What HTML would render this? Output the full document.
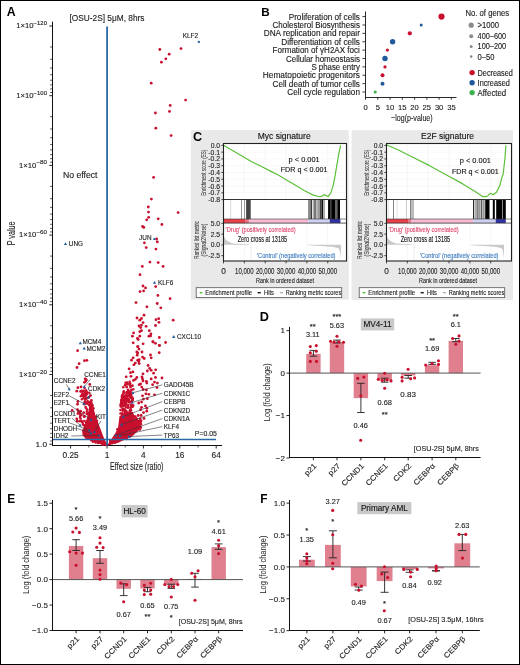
<!DOCTYPE html>
<html><head><meta charset="utf-8"><style>
html,body{margin:0;padding:0;background:#fff;}
svg{display:block;will-change:transform;}
svg text{font-family:"Liberation Sans", sans-serif;}
</style></head><body>
<svg width="520" height="665" viewBox="0 0 520 665" font-family="'Liberation Sans', sans-serif">
<rect x="0" y="0" width="520" height="665" fill="#fff"/>
<text x="6.80" y="16.00" font-size="12.3" font-weight="bold" fill="#000">A</text>
<text x="69.50" y="21.30" font-size="8.4" fill="#222" textLength="75" lengthAdjust="spacingAndGlyphs" stroke="#222" stroke-width="0.12">[OSU-2S] 5μM, 8hrs</text>
<line x1="52.50" y1="21.70" x2="52.50" y2="445.50" stroke="#111" stroke-width="1.0"/>
<line x1="52.00" y1="445.50" x2="222.00" y2="445.50" stroke="#111" stroke-width="1.0"/>
<line x1="49.30" y1="26.00" x2="52.50" y2="26.00" stroke="#111" stroke-width="0.9"/>
<text x="16.30" y="28.30" font-size="7.4" fill="#222" textLength="17.3" lengthAdjust="spacingAndGlyphs" stroke="#222" stroke-width="0.12">1×10</text>
<text x="33.60" y="25.00" font-size="5.0" fill="#222" textLength="13.4" lengthAdjust="spacingAndGlyphs" stroke="#222" stroke-width="0.12">−120</text>
<line x1="50.10" y1="46.98" x2="52.50" y2="46.98" stroke="#111" stroke-width="0.7"/>
<line x1="50.10" y1="59.26" x2="52.50" y2="59.26" stroke="#111" stroke-width="0.7"/>
<line x1="50.10" y1="67.96" x2="52.50" y2="67.96" stroke="#111" stroke-width="0.7"/>
<line x1="50.10" y1="74.72" x2="52.50" y2="74.72" stroke="#111" stroke-width="0.7"/>
<line x1="50.10" y1="80.24" x2="52.50" y2="80.24" stroke="#111" stroke-width="0.7"/>
<line x1="50.10" y1="84.90" x2="52.50" y2="84.90" stroke="#111" stroke-width="0.7"/>
<line x1="50.10" y1="88.95" x2="52.50" y2="88.95" stroke="#111" stroke-width="0.7"/>
<line x1="50.10" y1="92.51" x2="52.50" y2="92.51" stroke="#111" stroke-width="0.7"/>
<line x1="49.30" y1="95.70" x2="52.50" y2="95.70" stroke="#111" stroke-width="0.9"/>
<text x="16.30" y="98.00" font-size="7.4" fill="#222" textLength="17.3" lengthAdjust="spacingAndGlyphs" stroke="#222" stroke-width="0.12">1×10</text>
<text x="33.60" y="94.70" font-size="5.0" fill="#222" textLength="13.4" lengthAdjust="spacingAndGlyphs" stroke="#222" stroke-width="0.12">−100</text>
<line x1="50.10" y1="116.68" x2="52.50" y2="116.68" stroke="#111" stroke-width="0.7"/>
<line x1="50.10" y1="128.96" x2="52.50" y2="128.96" stroke="#111" stroke-width="0.7"/>
<line x1="50.10" y1="137.66" x2="52.50" y2="137.66" stroke="#111" stroke-width="0.7"/>
<line x1="50.10" y1="144.42" x2="52.50" y2="144.42" stroke="#111" stroke-width="0.7"/>
<line x1="50.10" y1="149.94" x2="52.50" y2="149.94" stroke="#111" stroke-width="0.7"/>
<line x1="50.10" y1="154.60" x2="52.50" y2="154.60" stroke="#111" stroke-width="0.7"/>
<line x1="50.10" y1="158.65" x2="52.50" y2="158.65" stroke="#111" stroke-width="0.7"/>
<line x1="50.10" y1="162.21" x2="52.50" y2="162.21" stroke="#111" stroke-width="0.7"/>
<line x1="49.30" y1="165.40" x2="52.50" y2="165.40" stroke="#111" stroke-width="0.9"/>
<text x="19.10" y="167.70" font-size="7.4" fill="#222" textLength="17.3" lengthAdjust="spacingAndGlyphs" stroke="#222" stroke-width="0.12">1×10</text>
<text x="36.40" y="164.40" font-size="5.0" fill="#222" textLength="10.6" lengthAdjust="spacingAndGlyphs" stroke="#222" stroke-width="0.12">−80</text>
<line x1="50.10" y1="186.38" x2="52.50" y2="186.38" stroke="#111" stroke-width="0.7"/>
<line x1="50.10" y1="198.66" x2="52.50" y2="198.66" stroke="#111" stroke-width="0.7"/>
<line x1="50.10" y1="207.36" x2="52.50" y2="207.36" stroke="#111" stroke-width="0.7"/>
<line x1="50.10" y1="214.12" x2="52.50" y2="214.12" stroke="#111" stroke-width="0.7"/>
<line x1="50.10" y1="219.64" x2="52.50" y2="219.64" stroke="#111" stroke-width="0.7"/>
<line x1="50.10" y1="224.30" x2="52.50" y2="224.30" stroke="#111" stroke-width="0.7"/>
<line x1="50.10" y1="228.35" x2="52.50" y2="228.35" stroke="#111" stroke-width="0.7"/>
<line x1="50.10" y1="231.91" x2="52.50" y2="231.91" stroke="#111" stroke-width="0.7"/>
<line x1="49.30" y1="235.10" x2="52.50" y2="235.10" stroke="#111" stroke-width="0.9"/>
<text x="19.10" y="237.40" font-size="7.4" fill="#222" textLength="17.3" lengthAdjust="spacingAndGlyphs" stroke="#222" stroke-width="0.12">1×10</text>
<text x="36.40" y="234.10" font-size="5.0" fill="#222" textLength="10.6" lengthAdjust="spacingAndGlyphs" stroke="#222" stroke-width="0.12">−60</text>
<line x1="50.10" y1="256.08" x2="52.50" y2="256.08" stroke="#111" stroke-width="0.7"/>
<line x1="50.10" y1="268.36" x2="52.50" y2="268.36" stroke="#111" stroke-width="0.7"/>
<line x1="50.10" y1="277.06" x2="52.50" y2="277.06" stroke="#111" stroke-width="0.7"/>
<line x1="50.10" y1="283.82" x2="52.50" y2="283.82" stroke="#111" stroke-width="0.7"/>
<line x1="50.10" y1="289.34" x2="52.50" y2="289.34" stroke="#111" stroke-width="0.7"/>
<line x1="50.10" y1="294.00" x2="52.50" y2="294.00" stroke="#111" stroke-width="0.7"/>
<line x1="50.10" y1="298.05" x2="52.50" y2="298.05" stroke="#111" stroke-width="0.7"/>
<line x1="50.10" y1="301.61" x2="52.50" y2="301.61" stroke="#111" stroke-width="0.7"/>
<line x1="49.30" y1="304.80" x2="52.50" y2="304.80" stroke="#111" stroke-width="0.9"/>
<text x="19.10" y="307.10" font-size="7.4" fill="#222" textLength="17.3" lengthAdjust="spacingAndGlyphs" stroke="#222" stroke-width="0.12">1×10</text>
<text x="36.40" y="303.80" font-size="5.0" fill="#222" textLength="10.6" lengthAdjust="spacingAndGlyphs" stroke="#222" stroke-width="0.12">−40</text>
<line x1="50.10" y1="325.78" x2="52.50" y2="325.78" stroke="#111" stroke-width="0.7"/>
<line x1="50.10" y1="338.06" x2="52.50" y2="338.06" stroke="#111" stroke-width="0.7"/>
<line x1="50.10" y1="346.76" x2="52.50" y2="346.76" stroke="#111" stroke-width="0.7"/>
<line x1="50.10" y1="353.52" x2="52.50" y2="353.52" stroke="#111" stroke-width="0.7"/>
<line x1="50.10" y1="359.04" x2="52.50" y2="359.04" stroke="#111" stroke-width="0.7"/>
<line x1="50.10" y1="363.70" x2="52.50" y2="363.70" stroke="#111" stroke-width="0.7"/>
<line x1="50.10" y1="367.75" x2="52.50" y2="367.75" stroke="#111" stroke-width="0.7"/>
<line x1="50.10" y1="371.31" x2="52.50" y2="371.31" stroke="#111" stroke-width="0.7"/>
<line x1="49.30" y1="374.50" x2="52.50" y2="374.50" stroke="#111" stroke-width="0.9"/>
<text x="19.10" y="376.80" font-size="7.4" fill="#222" textLength="17.3" lengthAdjust="spacingAndGlyphs" stroke="#222" stroke-width="0.12">1×10</text>
<text x="36.40" y="373.50" font-size="5.0" fill="#222" textLength="10.6" lengthAdjust="spacingAndGlyphs" stroke="#222" stroke-width="0.12">−20</text>
<line x1="50.10" y1="395.48" x2="52.50" y2="395.48" stroke="#111" stroke-width="0.7"/>
<line x1="50.10" y1="407.76" x2="52.50" y2="407.76" stroke="#111" stroke-width="0.7"/>
<line x1="50.10" y1="416.46" x2="52.50" y2="416.46" stroke="#111" stroke-width="0.7"/>
<line x1="50.10" y1="423.22" x2="52.50" y2="423.22" stroke="#111" stroke-width="0.7"/>
<line x1="50.10" y1="428.74" x2="52.50" y2="428.74" stroke="#111" stroke-width="0.7"/>
<line x1="50.10" y1="433.40" x2="52.50" y2="433.40" stroke="#111" stroke-width="0.7"/>
<line x1="50.10" y1="437.45" x2="52.50" y2="437.45" stroke="#111" stroke-width="0.7"/>
<line x1="50.10" y1="441.01" x2="52.50" y2="441.01" stroke="#111" stroke-width="0.7"/>
<line x1="49.30" y1="444.20" x2="52.50" y2="444.20" stroke="#111" stroke-width="0.9"/>
<text x="47.00" y="447.00" font-size="7.8" text-anchor="end" fill="#222" textLength="11.5" lengthAdjust="spacingAndGlyphs" stroke="#222" stroke-width="0.12">1.0</text>
<text transform="translate(14.8,233.35) rotate(-90)" font-size="10" text-anchor="middle" fill="#222" stroke="#222" stroke-width="0.1" textLength="24" lengthAdjust="spacingAndGlyphs">P value</text>
<line x1="70.60" y1="445.50" x2="70.60" y2="448.50" stroke="#111" stroke-width="0.9"/>
<text x="70.60" y="457.60" font-size="8.3" text-anchor="middle" fill="#222" stroke="#222" stroke-width="0.12">0.25</text>
<line x1="107.00" y1="445.50" x2="107.00" y2="448.50" stroke="#111" stroke-width="0.9"/>
<text x="107.00" y="457.60" font-size="8.3" text-anchor="middle" fill="#222" stroke="#222" stroke-width="0.12">1</text>
<line x1="143.40" y1="445.50" x2="143.40" y2="448.50" stroke="#111" stroke-width="0.9"/>
<text x="143.40" y="457.60" font-size="8.3" text-anchor="middle" fill="#222" stroke="#222" stroke-width="0.12">4</text>
<line x1="179.80" y1="445.50" x2="179.80" y2="448.50" stroke="#111" stroke-width="0.9"/>
<text x="179.80" y="457.60" font-size="8.3" text-anchor="middle" fill="#222" stroke="#222" stroke-width="0.12">16</text>
<line x1="216.20" y1="445.50" x2="216.20" y2="448.50" stroke="#111" stroke-width="0.9"/>
<text x="216.20" y="457.60" font-size="8.3" text-anchor="middle" fill="#222" stroke="#222" stroke-width="0.12">64</text>
<line x1="88.80" y1="445.50" x2="88.80" y2="447.50" stroke="#111" stroke-width="0.7"/>
<line x1="125.20" y1="445.50" x2="125.20" y2="447.50" stroke="#111" stroke-width="0.7"/>
<line x1="161.60" y1="445.50" x2="161.60" y2="447.50" stroke="#111" stroke-width="0.7"/>
<line x1="198.00" y1="445.50" x2="198.00" y2="447.50" stroke="#111" stroke-width="0.7"/>
<text x="110.10" y="469.60" font-size="10.4" fill="#222" textLength="53.4" lengthAdjust="spacingAndGlyphs" stroke="#222" stroke-width="0.12">Effect size (ratio)</text>
<text x="62.90" y="177.90" font-size="8.6" fill="#222" textLength="34.6" lengthAdjust="spacingAndGlyphs" stroke="#222" stroke-width="0.12">No effect</text>
<g>
<polygon points="90.3,400 92,403.6 93.7,408.8 95.5,415.7 98.1,422.7 100.7,429.6 103.3,436.5 106.7,443.4 107.5,445.5 104,445.2 100.7,444.2 96,443 92.5,441.6 88.5,439.8 85.3,438 83,435.5 82.3,433 82.8,430 84.2,426.1 86,420.9 87.7,415.7 88.5,410.6 89.4,405.4" fill="#c8102e"/>
<polygon points="107.5,445.5 108.4,443.4 111.9,438.2 115.4,433 118,427.9 119,420 119.5,416 126,415.5 132.7,415.8 135,420 139,424 141,427 136.9,432.2 128.6,438.1 118.1,442.8 110.2,444.8" fill="#c8102e"/>
<circle cx="90.46" cy="406.86" r="1.25" fill="#c8102e"/>
<circle cx="95.80" cy="416.64" r="1.25" fill="#c8102e"/>
<circle cx="93.00" cy="437.62" r="1.25" fill="#c8102e"/>
<circle cx="98.11" cy="443.12" r="1.25" fill="#c8102e"/>
<circle cx="90.07" cy="437.13" r="1.25" fill="#c8102e"/>
<circle cx="86.85" cy="426.46" r="1.25" fill="#c8102e"/>
<circle cx="90.22" cy="426.64" r="1.25" fill="#c8102e"/>
<circle cx="93.72" cy="413.64" r="1.25" fill="#c8102e"/>
<circle cx="88.45" cy="426.14" r="1.25" fill="#c8102e"/>
<circle cx="95.53" cy="439.82" r="1.25" fill="#c8102e"/>
<circle cx="92.84" cy="434.45" r="1.25" fill="#c8102e"/>
<circle cx="86.13" cy="422.25" r="1.25" fill="#c8102e"/>
<circle cx="83.29" cy="430.40" r="1.25" fill="#c8102e"/>
<circle cx="96.91" cy="420.76" r="1.25" fill="#c8102e"/>
<circle cx="103.47" cy="442.98" r="1.25" fill="#c8102e"/>
<circle cx="94.25" cy="430.22" r="1.25" fill="#c8102e"/>
<circle cx="83.83" cy="431.92" r="1.25" fill="#c8102e"/>
<circle cx="92.02" cy="430.42" r="1.25" fill="#c8102e"/>
<circle cx="83.79" cy="434.95" r="1.25" fill="#c8102e"/>
<circle cx="92.15" cy="439.65" r="1.25" fill="#c8102e"/>
<circle cx="96.15" cy="440.19" r="1.25" fill="#c8102e"/>
<circle cx="102.95" cy="439.31" r="1.25" fill="#c8102e"/>
<circle cx="89.32" cy="418.90" r="1.25" fill="#c8102e"/>
<circle cx="91.34" cy="440.23" r="1.25" fill="#c8102e"/>
<circle cx="88.18" cy="422.07" r="1.25" fill="#c8102e"/>
<circle cx="91.61" cy="425.77" r="1.25" fill="#c8102e"/>
<circle cx="95.29" cy="428.10" r="1.25" fill="#c8102e"/>
<circle cx="92.19" cy="418.15" r="1.25" fill="#c8102e"/>
<circle cx="84.91" cy="428.86" r="1.25" fill="#c8102e"/>
<circle cx="90.87" cy="402.39" r="1.25" fill="#c8102e"/>
<circle cx="88.66" cy="415.81" r="1.25" fill="#c8102e"/>
<circle cx="91.48" cy="405.59" r="1.25" fill="#c8102e"/>
<circle cx="94.04" cy="422.01" r="1.25" fill="#c8102e"/>
<circle cx="90.93" cy="412.05" r="1.25" fill="#c8102e"/>
<circle cx="88.88" cy="416.68" r="1.25" fill="#c8102e"/>
<circle cx="86.51" cy="435.12" r="1.25" fill="#c8102e"/>
<circle cx="95.72" cy="435.45" r="1.25" fill="#c8102e"/>
<circle cx="90.61" cy="410.15" r="1.25" fill="#c8102e"/>
<circle cx="102.75" cy="444.81" r="1.25" fill="#c8102e"/>
<circle cx="88.01" cy="423.55" r="1.25" fill="#c8102e"/>
<circle cx="88.83" cy="431.51" r="1.25" fill="#c8102e"/>
<circle cx="105.91" cy="444.96" r="1.25" fill="#c8102e"/>
<circle cx="98.03" cy="440.96" r="1.25" fill="#c8102e"/>
<circle cx="98.76" cy="436.38" r="1.25" fill="#c8102e"/>
<circle cx="84.44" cy="430.06" r="1.25" fill="#c8102e"/>
<circle cx="86.80" cy="435.91" r="1.25" fill="#c8102e"/>
<circle cx="90.68" cy="436.44" r="1.25" fill="#c8102e"/>
<circle cx="85.98" cy="437.61" r="1.25" fill="#c8102e"/>
<circle cx="91.13" cy="424.96" r="1.25" fill="#c8102e"/>
<circle cx="95.57" cy="442.48" r="1.25" fill="#c8102e"/>
<circle cx="93.23" cy="439.66" r="1.25" fill="#c8102e"/>
<circle cx="88.65" cy="413.33" r="1.25" fill="#c8102e"/>
<circle cx="88.36" cy="426.68" r="1.25" fill="#c8102e"/>
<circle cx="88.84" cy="419.07" r="1.25" fill="#c8102e"/>
<circle cx="91.22" cy="420.85" r="1.25" fill="#c8102e"/>
<circle cx="97.00" cy="441.15" r="1.25" fill="#c8102e"/>
<circle cx="92.90" cy="441.76" r="1.25" fill="#c8102e"/>
<circle cx="94.94" cy="424.20" r="1.25" fill="#c8102e"/>
<circle cx="93.39" cy="408.33" r="1.25" fill="#c8102e"/>
<circle cx="86.64" cy="421.54" r="1.25" fill="#c8102e"/>
<circle cx="131.79" cy="432.19" r="1.25" fill="#c8102e"/>
<circle cx="118.42" cy="431.05" r="1.25" fill="#c8102e"/>
<circle cx="126.11" cy="439.03" r="1.25" fill="#c8102e"/>
<circle cx="133.37" cy="430.73" r="1.25" fill="#c8102e"/>
<circle cx="126.32" cy="438.30" r="1.25" fill="#c8102e"/>
<circle cx="138.07" cy="428.80" r="1.25" fill="#c8102e"/>
<circle cx="128.02" cy="430.67" r="1.25" fill="#c8102e"/>
<circle cx="124.66" cy="436.28" r="1.25" fill="#c8102e"/>
<circle cx="122.65" cy="431.50" r="1.25" fill="#c8102e"/>
<circle cx="129.62" cy="419.79" r="1.25" fill="#c8102e"/>
<circle cx="120.84" cy="430.12" r="1.25" fill="#c8102e"/>
<circle cx="124.77" cy="425.67" r="1.25" fill="#c8102e"/>
<circle cx="131.69" cy="416.08" r="1.25" fill="#c8102e"/>
<circle cx="126.06" cy="428.71" r="1.25" fill="#c8102e"/>
<circle cx="128.40" cy="430.87" r="1.25" fill="#c8102e"/>
<circle cx="134.94" cy="423.26" r="1.25" fill="#c8102e"/>
<circle cx="112.50" cy="443.08" r="1.25" fill="#c8102e"/>
<circle cx="126.61" cy="436.51" r="1.25" fill="#c8102e"/>
<circle cx="130.55" cy="428.26" r="1.25" fill="#c8102e"/>
<circle cx="109.93" cy="443.65" r="1.25" fill="#c8102e"/>
<circle cx="110.31" cy="441.19" r="1.25" fill="#c8102e"/>
<circle cx="122.70" cy="425.67" r="1.25" fill="#c8102e"/>
<circle cx="125.15" cy="422.65" r="1.25" fill="#c8102e"/>
<circle cx="132.94" cy="424.20" r="1.25" fill="#c8102e"/>
<circle cx="124.25" cy="420.84" r="1.25" fill="#c8102e"/>
<circle cx="132.06" cy="432.03" r="1.25" fill="#c8102e"/>
<circle cx="134.93" cy="428.47" r="1.25" fill="#c8102e"/>
<circle cx="120.67" cy="430.70" r="1.25" fill="#c8102e"/>
<circle cx="118.98" cy="440.47" r="1.25" fill="#c8102e"/>
<circle cx="131.18" cy="434.58" r="1.25" fill="#c8102e"/>
<circle cx="121.06" cy="425.93" r="1.25" fill="#c8102e"/>
<circle cx="110.33" cy="440.74" r="1.25" fill="#c8102e"/>
<circle cx="117.32" cy="429.28" r="1.25" fill="#c8102e"/>
<circle cx="123.40" cy="430.58" r="1.25" fill="#c8102e"/>
<circle cx="127.12" cy="431.38" r="1.25" fill="#c8102e"/>
<circle cx="120.55" cy="425.28" r="1.25" fill="#c8102e"/>
<circle cx="131.76" cy="434.80" r="1.25" fill="#c8102e"/>
<circle cx="130.38" cy="436.30" r="1.25" fill="#c8102e"/>
<circle cx="111.01" cy="440.57" r="1.25" fill="#c8102e"/>
<circle cx="126.21" cy="434.33" r="1.25" fill="#c8102e"/>
<circle cx="128.48" cy="435.92" r="1.25" fill="#c8102e"/>
<circle cx="124.35" cy="431.56" r="1.25" fill="#c8102e"/>
<circle cx="129.59" cy="417.48" r="1.25" fill="#c8102e"/>
<circle cx="132.18" cy="423.07" r="1.25" fill="#c8102e"/>
<circle cx="131.93" cy="421.66" r="1.25" fill="#c8102e"/>
<circle cx="124.05" cy="426.98" r="1.25" fill="#c8102e"/>
<circle cx="123.55" cy="436.01" r="1.25" fill="#c8102e"/>
<circle cx="133.19" cy="434.01" r="1.25" fill="#c8102e"/>
<circle cx="129.03" cy="417.82" r="1.25" fill="#c8102e"/>
<circle cx="132.40" cy="424.63" r="1.25" fill="#c8102e"/>
<circle cx="126.52" cy="415.87" r="1.25" fill="#c8102e"/>
<circle cx="130.01" cy="436.27" r="1.25" fill="#c8102e"/>
<circle cx="130.14" cy="424.23" r="1.25" fill="#c8102e"/>
<circle cx="124.80" cy="429.44" r="1.25" fill="#c8102e"/>
<circle cx="123.12" cy="419.06" r="1.25" fill="#c8102e"/>
<circle cx="122.56" cy="423.56" r="1.25" fill="#c8102e"/>
<circle cx="134.98" cy="430.76" r="1.25" fill="#c8102e"/>
<circle cx="115.25" cy="442.43" r="1.25" fill="#c8102e"/>
<circle cx="123.79" cy="416.25" r="1.25" fill="#c8102e"/>
<circle cx="122.60" cy="424.56" r="1.25" fill="#c8102e"/>
<circle cx="81.90" cy="399.13" r="1.25" fill="#c8102e"/>
<circle cx="84.27" cy="420.97" r="1.25" fill="#c8102e"/>
<circle cx="80.02" cy="417.03" r="1.25" fill="#c8102e"/>
<circle cx="85.02" cy="401.29" r="1.25" fill="#c8102e"/>
<circle cx="84.87" cy="402.83" r="1.25" fill="#c8102e"/>
<circle cx="81.37" cy="420.73" r="1.25" fill="#c8102e"/>
<circle cx="83.86" cy="425.17" r="1.25" fill="#c8102e"/>
<circle cx="83.37" cy="395.69" r="1.25" fill="#c8102e"/>
<circle cx="86.90" cy="392.35" r="1.25" fill="#c8102e"/>
<circle cx="89.89" cy="403.84" r="1.25" fill="#c8102e"/>
<circle cx="86.37" cy="399.12" r="1.25" fill="#c8102e"/>
<circle cx="84.02" cy="416.52" r="1.25" fill="#c8102e"/>
<circle cx="88.86" cy="397.24" r="1.25" fill="#c8102e"/>
<circle cx="87.52" cy="401.35" r="1.25" fill="#c8102e"/>
<circle cx="82.26" cy="391.11" r="1.25" fill="#c8102e"/>
<circle cx="82.81" cy="423.86" r="1.25" fill="#c8102e"/>
<circle cx="86.71" cy="393.68" r="1.25" fill="#c8102e"/>
<circle cx="86.07" cy="390.14" r="1.25" fill="#c8102e"/>
<circle cx="84.62" cy="388.01" r="1.25" fill="#c8102e"/>
<circle cx="83.23" cy="395.37" r="1.25" fill="#c8102e"/>
<circle cx="90.12" cy="402.16" r="1.25" fill="#c8102e"/>
<circle cx="85.59" cy="407.06" r="1.25" fill="#c8102e"/>
<circle cx="85.09" cy="398.88" r="1.25" fill="#c8102e"/>
<circle cx="80.84" cy="396.21" r="1.25" fill="#c8102e"/>
<circle cx="86.80" cy="411.70" r="1.25" fill="#c8102e"/>
<circle cx="83.66" cy="394.93" r="1.25" fill="#c8102e"/>
<circle cx="85.40" cy="403.62" r="1.25" fill="#c8102e"/>
<circle cx="80.44" cy="415.22" r="1.25" fill="#c8102e"/>
<circle cx="92.09" cy="404.82" r="1.25" fill="#c8102e"/>
<circle cx="81.47" cy="390.79" r="1.25" fill="#c8102e"/>
<circle cx="87.05" cy="414.01" r="1.25" fill="#c8102e"/>
<circle cx="86.17" cy="408.27" r="1.25" fill="#c8102e"/>
<circle cx="80.53" cy="418.42" r="1.25" fill="#c8102e"/>
<circle cx="83.14" cy="424.48" r="1.25" fill="#c8102e"/>
<circle cx="88.71" cy="397.37" r="1.25" fill="#c8102e"/>
<circle cx="81.73" cy="395.08" r="1.25" fill="#c8102e"/>
<circle cx="87.08" cy="409.65" r="1.25" fill="#c8102e"/>
<circle cx="85.24" cy="393.84" r="1.25" fill="#c8102e"/>
<circle cx="84.07" cy="404.27" r="1.25" fill="#c8102e"/>
<circle cx="91.93" cy="404.91" r="1.25" fill="#c8102e"/>
<circle cx="83.17" cy="394.87" r="1.25" fill="#c8102e"/>
<circle cx="86.73" cy="413.68" r="1.25" fill="#c8102e"/>
<circle cx="85.67" cy="395.32" r="1.25" fill="#c8102e"/>
<circle cx="84.56" cy="402.50" r="1.25" fill="#c8102e"/>
<circle cx="89.21" cy="392.72" r="1.25" fill="#c8102e"/>
<circle cx="130.68" cy="409.48" r="1.25" fill="#c8102e"/>
<circle cx="126.91" cy="396.13" r="1.25" fill="#c8102e"/>
<circle cx="132.91" cy="398.79" r="1.25" fill="#c8102e"/>
<circle cx="130.98" cy="396.77" r="1.25" fill="#c8102e"/>
<circle cx="123.26" cy="410.01" r="1.25" fill="#c8102e"/>
<circle cx="124.20" cy="414.80" r="1.25" fill="#c8102e"/>
<circle cx="126.80" cy="395.68" r="1.25" fill="#c8102e"/>
<circle cx="123.28" cy="401.43" r="1.25" fill="#c8102e"/>
<circle cx="128.98" cy="414.72" r="1.25" fill="#c8102e"/>
<circle cx="122.29" cy="400.84" r="1.25" fill="#c8102e"/>
<circle cx="123.15" cy="415.35" r="1.25" fill="#c8102e"/>
<circle cx="121.18" cy="400.83" r="1.25" fill="#c8102e"/>
<circle cx="131.99" cy="413.09" r="1.25" fill="#c8102e"/>
<circle cx="129.85" cy="415.94" r="1.25" fill="#c8102e"/>
<circle cx="132.42" cy="399.23" r="1.25" fill="#c8102e"/>
<circle cx="122.79" cy="414.40" r="1.25" fill="#c8102e"/>
<circle cx="130.03" cy="391.80" r="1.25" fill="#c8102e"/>
<circle cx="128.97" cy="400.47" r="1.25" fill="#c8102e"/>
<circle cx="125.22" cy="399.29" r="1.25" fill="#c8102e"/>
<circle cx="124.01" cy="399.79" r="1.25" fill="#c8102e"/>
<circle cx="125.00" cy="411.54" r="1.25" fill="#c8102e"/>
<circle cx="131.00" cy="401.81" r="1.25" fill="#c8102e"/>
<circle cx="121.04" cy="402.84" r="1.25" fill="#c8102e"/>
<circle cx="125.21" cy="413.99" r="1.25" fill="#c8102e"/>
<circle cx="122.89" cy="400.11" r="1.25" fill="#c8102e"/>
<circle cx="125.70" cy="411.30" r="1.25" fill="#c8102e"/>
<circle cx="130.29" cy="392.02" r="1.25" fill="#c8102e"/>
<circle cx="132.27" cy="397.43" r="1.25" fill="#c8102e"/>
<circle cx="130.04" cy="413.46" r="1.25" fill="#c8102e"/>
<circle cx="124.77" cy="397.81" r="1.25" fill="#c8102e"/>
<circle cx="132.75" cy="406.42" r="1.25" fill="#c8102e"/>
<circle cx="123.78" cy="408.92" r="1.25" fill="#c8102e"/>
<circle cx="124.48" cy="397.89" r="1.25" fill="#c8102e"/>
<circle cx="120.45" cy="409.89" r="1.25" fill="#c8102e"/>
<circle cx="132.22" cy="406.85" r="1.25" fill="#c8102e"/>
<circle cx="123.42" cy="402.88" r="1.25" fill="#c8102e"/>
<circle cx="132.74" cy="414.85" r="1.25" fill="#c8102e"/>
<circle cx="125.39" cy="397.28" r="1.25" fill="#c8102e"/>
<circle cx="125.95" cy="403.34" r="1.25" fill="#c8102e"/>
<circle cx="130.75" cy="409.46" r="1.25" fill="#c8102e"/>
<circle cx="131.01" cy="410.32" r="1.25" fill="#c8102e"/>
<circle cx="128.23" cy="399.19" r="1.25" fill="#c8102e"/>
<circle cx="124.52" cy="400.05" r="1.25" fill="#c8102e"/>
<circle cx="130.49" cy="392.98" r="1.25" fill="#c8102e"/>
<circle cx="122.95" cy="409.82" r="1.25" fill="#c8102e"/>
<circle cx="123.59" cy="392.62" r="1.25" fill="#c8102e"/>
<circle cx="120.84" cy="404.81" r="1.25" fill="#c8102e"/>
<circle cx="124.60" cy="415.51" r="1.25" fill="#c8102e"/>
<circle cx="131.80" cy="415.70" r="1.25" fill="#c8102e"/>
<circle cx="123.82" cy="393.10" r="1.25" fill="#c8102e"/>
<circle cx="121.64" cy="403.46" r="1.25" fill="#c8102e"/>
<circle cx="129.56" cy="402.17" r="1.25" fill="#c8102e"/>
<circle cx="123.42" cy="401.42" r="1.25" fill="#c8102e"/>
<circle cx="128.40" cy="407.85" r="1.25" fill="#c8102e"/>
<circle cx="130.05" cy="412.17" r="1.25" fill="#c8102e"/>
<circle cx="128.97" cy="394.03" r="1.25" fill="#c8102e"/>
<circle cx="131.25" cy="398.34" r="1.25" fill="#c8102e"/>
<circle cx="127.71" cy="400.32" r="1.25" fill="#c8102e"/>
<circle cx="129.92" cy="395.98" r="1.25" fill="#c8102e"/>
<circle cx="123.59" cy="397.13" r="1.25" fill="#c8102e"/>
<circle cx="122.38" cy="413.10" r="1.25" fill="#c8102e"/>
<circle cx="127.86" cy="399.16" r="1.25" fill="#c8102e"/>
<circle cx="125.51" cy="415.81" r="1.25" fill="#c8102e"/>
<circle cx="126.94" cy="396.78" r="1.25" fill="#c8102e"/>
<circle cx="130.83" cy="407.33" r="1.25" fill="#c8102e"/>
<circle cx="126.52" cy="411.48" r="1.25" fill="#c8102e"/>
<circle cx="131.24" cy="413.86" r="1.25" fill="#c8102e"/>
<circle cx="121.94" cy="395.74" r="1.25" fill="#c8102e"/>
<circle cx="132.95" cy="405.58" r="1.25" fill="#c8102e"/>
<circle cx="132.40" cy="400.31" r="1.25" fill="#c8102e"/>
<circle cx="131.57" cy="402.23" r="1.25" fill="#c8102e"/>
<circle cx="123.75" cy="410.44" r="1.25" fill="#c8102e"/>
<circle cx="128.09" cy="406.50" r="1.25" fill="#c8102e"/>
<circle cx="123.21" cy="400.22" r="1.25" fill="#c8102e"/>
<circle cx="122.22" cy="396.10" r="1.25" fill="#c8102e"/>
<circle cx="123.69" cy="405.99" r="1.25" fill="#c8102e"/>
<circle cx="128.81" cy="396.09" r="1.25" fill="#c8102e"/>
<circle cx="129.15" cy="395.63" r="1.25" fill="#c8102e"/>
<circle cx="124.43" cy="396.09" r="1.25" fill="#c8102e"/>
<circle cx="130.66" cy="404.70" r="1.25" fill="#c8102e"/>
<circle cx="125.50" cy="404.75" r="1.25" fill="#c8102e"/>
<circle cx="128.65" cy="393.28" r="1.25" fill="#c8102e"/>
<circle cx="122.51" cy="408.39" r="1.25" fill="#c8102e"/>
<circle cx="125.69" cy="398.08" r="1.25" fill="#c8102e"/>
<circle cx="124.37" cy="414.83" r="1.25" fill="#c8102e"/>
<circle cx="124.43" cy="405.16" r="1.25" fill="#c8102e"/>
<circle cx="125.01" cy="401.41" r="1.25" fill="#c8102e"/>
<circle cx="131.55" cy="415.92" r="1.25" fill="#c8102e"/>
<circle cx="125.09" cy="395.93" r="1.25" fill="#c8102e"/>
<circle cx="129.79" cy="396.09" r="1.25" fill="#c8102e"/>
<circle cx="120.48" cy="413.54" r="1.25" fill="#c8102e"/>
<circle cx="125.87" cy="411.51" r="1.25" fill="#c8102e"/>
<circle cx="125.64" cy="413.07" r="1.25" fill="#c8102e"/>
<circle cx="126.35" cy="395.06" r="1.25" fill="#c8102e"/>
<circle cx="120.59" cy="404.79" r="1.25" fill="#c8102e"/>
<circle cx="128.66" cy="413.74" r="1.25" fill="#c8102e"/>
<circle cx="121.55" cy="406.55" r="1.25" fill="#c8102e"/>
<circle cx="125.18" cy="403.61" r="1.25" fill="#c8102e"/>
<circle cx="122.28" cy="398.08" r="1.25" fill="#c8102e"/>
<circle cx="127.12" cy="414.14" r="1.25" fill="#c8102e"/>
<circle cx="121.80" cy="403.26" r="1.25" fill="#c8102e"/>
<circle cx="130.78" cy="415.17" r="1.25" fill="#c8102e"/>
<circle cx="122.95" cy="394.17" r="1.25" fill="#c8102e"/>
<circle cx="132.57" cy="415.39" r="1.25" fill="#c8102e"/>
<circle cx="126.63" cy="392.33" r="1.25" fill="#c8102e"/>
<circle cx="132.35" cy="400.70" r="1.25" fill="#c8102e"/>
<circle cx="132.06" cy="406.51" r="1.25" fill="#c8102e"/>
<circle cx="131.04" cy="395.01" r="1.25" fill="#c8102e"/>
<circle cx="130.54" cy="396.55" r="1.25" fill="#c8102e"/>
<circle cx="125.62" cy="412.16" r="1.25" fill="#c8102e"/>
<circle cx="131.10" cy="395.57" r="1.25" fill="#c8102e"/>
<circle cx="123.21" cy="400.99" r="1.25" fill="#c8102e"/>
<circle cx="127.08" cy="400.59" r="1.25" fill="#c8102e"/>
<circle cx="121.99" cy="397.18" r="1.25" fill="#c8102e"/>
<circle cx="129.75" cy="413.43" r="1.25" fill="#c8102e"/>
<circle cx="120.93" cy="405.06" r="1.25" fill="#c8102e"/>
<circle cx="130.17" cy="391.95" r="1.25" fill="#c8102e"/>
<circle cx="131.21" cy="393.94" r="1.25" fill="#c8102e"/>
<circle cx="128.13" cy="404.75" r="1.25" fill="#c8102e"/>
<circle cx="128.49" cy="398.66" r="1.25" fill="#c8102e"/>
<circle cx="125.82" cy="405.57" r="1.25" fill="#c8102e"/>
<circle cx="125.89" cy="407.47" r="1.25" fill="#c8102e"/>
<circle cx="126.16" cy="401.96" r="1.25" fill="#c8102e"/>
<circle cx="120.70" cy="406.47" r="1.25" fill="#c8102e"/>
<circle cx="126.71" cy="396.88" r="1.25" fill="#c8102e"/>
<circle cx="130.25" cy="410.50" r="1.25" fill="#c8102e"/>
<circle cx="126.31" cy="395.49" r="1.25" fill="#c8102e"/>
<circle cx="126.50" cy="393.68" r="1.25" fill="#c8102e"/>
<circle cx="122.06" cy="401.76" r="1.25" fill="#c8102e"/>
<circle cx="121.58" cy="402.05" r="1.25" fill="#c8102e"/>
<circle cx="126.98" cy="392.02" r="1.25" fill="#c8102e"/>
<circle cx="128.61" cy="393.06" r="1.25" fill="#c8102e"/>
<circle cx="129.86" cy="410.44" r="1.25" fill="#c8102e"/>
<circle cx="127.00" cy="392.36" r="1.25" fill="#c8102e"/>
<circle cx="126.90" cy="400.45" r="1.25" fill="#c8102e"/>
<circle cx="131.46" cy="415.90" r="1.25" fill="#c8102e"/>
<circle cx="129.84" cy="411.37" r="1.25" fill="#c8102e"/>
<circle cx="122.90" cy="415.54" r="1.25" fill="#c8102e"/>
<circle cx="126.75" cy="414.92" r="1.25" fill="#c8102e"/>
<circle cx="130.57" cy="414.26" r="1.25" fill="#c8102e"/>
<circle cx="121.25" cy="399.77" r="1.25" fill="#c8102e"/>
<circle cx="130.15" cy="394.97" r="1.25" fill="#c8102e"/>
<circle cx="131.97" cy="397.87" r="1.25" fill="#c8102e"/>
<circle cx="130.92" cy="394.59" r="1.25" fill="#c8102e"/>
<circle cx="126.88" cy="414.00" r="1.25" fill="#c8102e"/>
<circle cx="123.09" cy="397.57" r="1.25" fill="#c8102e"/>
<circle cx="126.93" cy="398.98" r="1.25" fill="#c8102e"/>
<circle cx="122.48" cy="414.41" r="1.25" fill="#c8102e"/>
<circle cx="129.17" cy="413.39" r="1.25" fill="#c8102e"/>
<circle cx="122.58" cy="410.62" r="1.25" fill="#c8102e"/>
<circle cx="121.88" cy="404.27" r="1.25" fill="#c8102e"/>
<circle cx="128.61" cy="399.99" r="1.25" fill="#c8102e"/>
<circle cx="131.66" cy="404.88" r="1.25" fill="#c8102e"/>
<circle cx="127.88" cy="413.06" r="1.25" fill="#c8102e"/>
<circle cx="121.75" cy="415.82" r="1.25" fill="#c8102e"/>
<circle cx="128.52" cy="400.86" r="1.25" fill="#c8102e"/>
<circle cx="130.69" cy="397.62" r="1.25" fill="#c8102e"/>
<circle cx="133.18" cy="405.43" r="1.25" fill="#c8102e"/>
<circle cx="125.05" cy="410.12" r="1.25" fill="#c8102e"/>
<circle cx="126.11" cy="395.42" r="1.25" fill="#c8102e"/>
<circle cx="129.99" cy="392.21" r="1.25" fill="#c8102e"/>
<circle cx="130.98" cy="397.34" r="1.25" fill="#c8102e"/>
<circle cx="128.65" cy="415.60" r="1.25" fill="#c8102e"/>
<circle cx="127.96" cy="407.59" r="1.25" fill="#c8102e"/>
<circle cx="128.35" cy="401.81" r="1.25" fill="#c8102e"/>
<circle cx="127.01" cy="413.39" r="1.25" fill="#c8102e"/>
<circle cx="122.10" cy="396.68" r="1.25" fill="#c8102e"/>
<circle cx="128.83" cy="391.56" r="1.25" fill="#c8102e"/>
<circle cx="121.77" cy="399.93" r="1.25" fill="#c8102e"/>
<circle cx="123.29" cy="405.59" r="1.25" fill="#c8102e"/>
<circle cx="129.66" cy="381.65" r="1.25" fill="#c8102e"/>
<circle cx="130.11" cy="385.17" r="1.25" fill="#c8102e"/>
<circle cx="123.75" cy="391.18" r="1.25" fill="#c8102e"/>
<circle cx="123.25" cy="387.30" r="1.25" fill="#c8102e"/>
<circle cx="133.33" cy="389.17" r="1.25" fill="#c8102e"/>
<circle cx="127.23" cy="382.44" r="1.25" fill="#c8102e"/>
<circle cx="138.62" cy="421.61" r="1.25" fill="#c8102e"/>
<circle cx="139.46" cy="423.10" r="1.25" fill="#c8102e"/>
<circle cx="137.06" cy="419.80" r="1.25" fill="#c8102e"/>
<circle cx="135.00" cy="425.73" r="1.25" fill="#c8102e"/>
<circle cx="138.07" cy="426.27" r="1.25" fill="#c8102e"/>
<circle cx="136.09" cy="420.80" r="1.25" fill="#c8102e"/>
<circle cx="140.83" cy="427.45" r="1.25" fill="#c8102e"/>
<circle cx="140.45" cy="423.44" r="1.25" fill="#c8102e"/>
<circle cx="140.42" cy="423.24" r="1.25" fill="#c8102e"/>
<circle cx="135.26" cy="417.68" r="1.25" fill="#c8102e"/>
<circle cx="135.32" cy="416.62" r="1.25" fill="#c8102e"/>
<circle cx="136.36" cy="427.99" r="1.25" fill="#c8102e"/>
<circle cx="139.95" cy="429.53" r="1.25" fill="#c8102e"/>
<circle cx="140.12" cy="420.26" r="1.25" fill="#c8102e"/>
<circle cx="138.54" cy="422.98" r="1.25" fill="#c8102e"/>
<circle cx="140.88" cy="424.37" r="1.25" fill="#c8102e"/>
<circle cx="135.65" cy="426.27" r="1.25" fill="#c8102e"/>
<circle cx="135.60" cy="419.78" r="1.25" fill="#c8102e"/>
<circle cx="140.46" cy="421.23" r="1.25" fill="#c8102e"/>
<circle cx="139.31" cy="427.09" r="1.25" fill="#c8102e"/>
<circle cx="137.69" cy="429.44" r="1.25" fill="#c8102e"/>
<circle cx="137.37" cy="427.59" r="1.25" fill="#c8102e"/>
<circle cx="138.70" cy="420.92" r="1.25" fill="#c8102e"/>
<circle cx="135.12" cy="425.96" r="1.25" fill="#c8102e"/>
<circle cx="134.45" cy="416.43" r="1.25" fill="#c8102e"/>
<circle cx="136.45" cy="418.27" r="1.25" fill="#c8102e"/>
<circle cx="133.29" cy="416.67" r="1.25" fill="#c8102e"/>
<circle cx="139.93" cy="426.14" r="1.25" fill="#c8102e"/>
<circle cx="159.80" cy="49.50" r="1.4" fill="#c8102e"/>
<circle cx="181.00" cy="48.60" r="1.4" fill="#c8102e"/>
<circle cx="169.20" cy="54.20" r="1.4" fill="#c8102e"/>
<circle cx="165.80" cy="58.80" r="1.4" fill="#c8102e"/>
<circle cx="161.40" cy="62.20" r="1.4" fill="#c8102e"/>
<circle cx="151.20" cy="83.20" r="1.4" fill="#c8102e"/>
<circle cx="185.60" cy="100.10" r="1.4" fill="#c8102e"/>
<circle cx="170.20" cy="105.40" r="1.4" fill="#c8102e"/>
<circle cx="169.50" cy="111.40" r="1.4" fill="#c8102e"/>
<circle cx="155.40" cy="113.00" r="1.4" fill="#c8102e"/>
<circle cx="155.80" cy="128.20" r="1.4" fill="#c8102e"/>
<circle cx="171.10" cy="135.60" r="1.4" fill="#c8102e"/>
<circle cx="153.60" cy="177.40" r="1.4" fill="#c8102e"/>
<circle cx="151.40" cy="199.10" r="1.4" fill="#c8102e"/>
<circle cx="148.30" cy="207.00" r="1.4" fill="#c8102e"/>
<circle cx="148.50" cy="212.10" r="1.4" fill="#c8102e"/>
<circle cx="178.10" cy="212.60" r="1.4" fill="#c8102e"/>
<circle cx="148.70" cy="217.30" r="1.4" fill="#c8102e"/>
<circle cx="146.70" cy="219.80" r="1.4" fill="#c8102e"/>
<circle cx="158.20" cy="218.80" r="1.4" fill="#c8102e"/>
<circle cx="161.90" cy="224.50" r="1.4" fill="#c8102e"/>
<circle cx="142.60" cy="226.50" r="1.4" fill="#c8102e"/>
<circle cx="143.80" cy="227.40" r="1.4" fill="#c8102e"/>
<circle cx="156.60" cy="239.00" r="1.4" fill="#c8102e"/>
<circle cx="157.30" cy="241.90" r="1.4" fill="#c8102e"/>
<circle cx="144.40" cy="242.80" r="1.4" fill="#c8102e"/>
<circle cx="146.20" cy="247.60" r="1.4" fill="#c8102e"/>
<circle cx="155.90" cy="249.10" r="1.4" fill="#c8102e"/>
<circle cx="149.90" cy="262.10" r="1.4" fill="#c8102e"/>
<circle cx="158.20" cy="262.60" r="1.4" fill="#c8102e"/>
<circle cx="142.30" cy="266.40" r="1.4" fill="#c8102e"/>
<circle cx="163.10" cy="266.40" r="1.4" fill="#c8102e"/>
<circle cx="140.00" cy="274.70" r="1.4" fill="#c8102e"/>
<circle cx="143.00" cy="286.00" r="1.4" fill="#c8102e"/>
<circle cx="145.50" cy="287.90" r="1.4" fill="#c8102e"/>
<circle cx="155.70" cy="286.60" r="1.4" fill="#c8102e"/>
<circle cx="140.00" cy="291.60" r="1.4" fill="#c8102e"/>
<circle cx="143.60" cy="290.90" r="1.4" fill="#c8102e"/>
<circle cx="157.90" cy="295.40" r="1.4" fill="#c8102e"/>
<circle cx="170.10" cy="298.70" r="1.4" fill="#c8102e"/>
<circle cx="136.00" cy="302.60" r="1.4" fill="#c8102e"/>
<circle cx="157.20" cy="303.50" r="1.4" fill="#c8102e"/>
<circle cx="146.90" cy="306.80" r="1.4" fill="#c8102e"/>
<circle cx="160.80" cy="307.80" r="1.4" fill="#c8102e"/>
<circle cx="144.00" cy="315.20" r="1.4" fill="#c8102e"/>
<circle cx="141.50" cy="318.50" r="1.4" fill="#c8102e"/>
<circle cx="137.00" cy="318.00" r="1.4" fill="#c8102e"/>
<circle cx="139.80" cy="320.20" r="1.4" fill="#c8102e"/>
<circle cx="156.00" cy="319.70" r="1.4" fill="#c8102e"/>
<circle cx="158.70" cy="318.70" r="1.4" fill="#c8102e"/>
<circle cx="173.20" cy="320.20" r="1.4" fill="#c8102e"/>
<circle cx="159.00" cy="322.30" r="1.4" fill="#c8102e"/>
<circle cx="143.10" cy="322.60" r="1.4" fill="#c8102e"/>
<circle cx="141.50" cy="325.10" r="1.4" fill="#c8102e"/>
<circle cx="139.00" cy="326.00" r="1.4" fill="#c8102e"/>
<circle cx="146.10" cy="326.30" r="1.4" fill="#c8102e"/>
<circle cx="155.50" cy="325.50" r="1.4" fill="#c8102e"/>
<circle cx="140.70" cy="327.60" r="1.4" fill="#c8102e"/>
<circle cx="139.80" cy="331.70" r="1.4" fill="#c8102e"/>
<circle cx="141.50" cy="330.60" r="1.4" fill="#c8102e"/>
<circle cx="149.30" cy="330.70" r="1.4" fill="#c8102e"/>
<circle cx="133.60" cy="332.90" r="1.4" fill="#c8102e"/>
<circle cx="150.90" cy="333.90" r="1.4" fill="#c8102e"/>
<circle cx="132.40" cy="336.20" r="1.4" fill="#c8102e"/>
<circle cx="139.80" cy="336.20" r="1.4" fill="#c8102e"/>
<circle cx="148.90" cy="336.20" r="1.4" fill="#c8102e"/>
<circle cx="150.60" cy="335.90" r="1.4" fill="#c8102e"/>
<circle cx="159.30" cy="337.50" r="1.4" fill="#c8102e"/>
<circle cx="137.40" cy="338.30" r="1.4" fill="#c8102e"/>
<circle cx="138.20" cy="339.50" r="1.4" fill="#c8102e"/>
<circle cx="133.20" cy="342.80" r="1.4" fill="#c8102e"/>
<circle cx="143.10" cy="343.80" r="1.4" fill="#c8102e"/>
<circle cx="153.10" cy="342.00" r="1.4" fill="#c8102e"/>
<circle cx="155.50" cy="343.30" r="1.4" fill="#c8102e"/>
<circle cx="159.30" cy="345.30" r="1.4" fill="#c8102e"/>
<circle cx="165.60" cy="342.50" r="1.4" fill="#c8102e"/>
<circle cx="137.90" cy="346.60" r="1.4" fill="#c8102e"/>
<circle cx="139.00" cy="349.10" r="1.4" fill="#c8102e"/>
<circle cx="152.80" cy="341.70" r="1.4" fill="#c8102e"/>
<circle cx="159.50" cy="345.60" r="1.4" fill="#c8102e"/>
<circle cx="137.70" cy="346.70" r="1.4" fill="#c8102e"/>
<circle cx="136.80" cy="352.00" r="1.4" fill="#c8102e"/>
<circle cx="137.70" cy="353.00" r="1.4" fill="#c8102e"/>
<circle cx="142.00" cy="352.00" r="1.4" fill="#c8102e"/>
<circle cx="137.20" cy="355.20" r="1.4" fill="#c8102e"/>
<circle cx="150.50" cy="354.90" r="1.4" fill="#c8102e"/>
<circle cx="151.20" cy="357.80" r="1.4" fill="#c8102e"/>
<circle cx="159.20" cy="352.70" r="1.4" fill="#c8102e"/>
<circle cx="133.10" cy="357.80" r="1.4" fill="#c8102e"/>
<circle cx="131.50" cy="360.20" r="1.4" fill="#c8102e"/>
<circle cx="142.50" cy="357.10" r="1.4" fill="#c8102e"/>
<circle cx="144.20" cy="358.50" r="1.4" fill="#c8102e"/>
<circle cx="137.70" cy="360.20" r="1.4" fill="#c8102e"/>
<circle cx="139.20" cy="359.70" r="1.4" fill="#c8102e"/>
<circle cx="138.70" cy="361.60" r="1.4" fill="#c8102e"/>
<circle cx="139.20" cy="363.60" r="1.4" fill="#c8102e"/>
<circle cx="135.30" cy="363.10" r="1.4" fill="#c8102e"/>
<circle cx="133.90" cy="364.80" r="1.4" fill="#c8102e"/>
<circle cx="148.10" cy="365.50" r="1.4" fill="#c8102e"/>
<circle cx="129.10" cy="368.80" r="1.4" fill="#c8102e"/>
<circle cx="149.70" cy="368.40" r="1.4" fill="#c8102e"/>
<circle cx="151.20" cy="370.30" r="1.4" fill="#c8102e"/>
<circle cx="155.70" cy="369.80" r="1.4" fill="#c8102e"/>
<circle cx="147.30" cy="371.00" r="1.4" fill="#c8102e"/>
<circle cx="153.60" cy="373.20" r="1.4" fill="#c8102e"/>
<circle cx="130.50" cy="372.70" r="1.4" fill="#c8102e"/>
<circle cx="132.90" cy="371.90" r="1.4" fill="#c8102e"/>
<circle cx="143.00" cy="373.80" r="1.4" fill="#c8102e"/>
<circle cx="126.20" cy="376.80" r="1.4" fill="#c8102e"/>
<circle cx="131.00" cy="376.30" r="1.4" fill="#c8102e"/>
<circle cx="136.80" cy="377.50" r="1.4" fill="#c8102e"/>
<circle cx="135.30" cy="379.40" r="1.4" fill="#c8102e"/>
<circle cx="133.40" cy="380.40" r="1.4" fill="#c8102e"/>
<circle cx="142.00" cy="377.00" r="1.4" fill="#c8102e"/>
<circle cx="142.50" cy="378.90" r="1.4" fill="#c8102e"/>
<circle cx="143.00" cy="380.90" r="1.4" fill="#c8102e"/>
<circle cx="151.20" cy="378.90" r="1.4" fill="#c8102e"/>
<circle cx="155.50" cy="377.50" r="1.4" fill="#c8102e"/>
<circle cx="162.00" cy="378.00" r="1.4" fill="#c8102e"/>
<circle cx="146.40" cy="381.30" r="1.4" fill="#c8102e"/>
<circle cx="146.80" cy="383.10" r="1.4" fill="#c8102e"/>
<circle cx="154.50" cy="382.10" r="1.4" fill="#c8102e"/>
<circle cx="157.40" cy="383.10" r="1.4" fill="#c8102e"/>
<circle cx="139.20" cy="384.70" r="1.4" fill="#c8102e"/>
<circle cx="140.60" cy="384.00" r="1.4" fill="#c8102e"/>
<circle cx="152.60" cy="384.70" r="1.4" fill="#c8102e"/>
<circle cx="141.80" cy="387.10" r="1.4" fill="#c8102e"/>
<circle cx="157.00" cy="387.60" r="1.4" fill="#c8102e"/>
<circle cx="125.70" cy="382.80" r="1.4" fill="#c8102e"/>
<circle cx="125.20" cy="385.20" r="1.4" fill="#c8102e"/>
<circle cx="127.60" cy="384.20" r="1.4" fill="#c8102e"/>
<circle cx="126.70" cy="387.10" r="1.4" fill="#c8102e"/>
<circle cx="130.00" cy="383.30" r="1.4" fill="#c8102e"/>
<circle cx="130.50" cy="387.10" r="1.4" fill="#c8102e"/>
<circle cx="132.40" cy="385.70" r="1.4" fill="#c8102e"/>
<circle cx="128.10" cy="390.00" r="1.4" fill="#c8102e"/>
<circle cx="131.50" cy="390.00" r="1.4" fill="#c8102e"/>
<circle cx="143.20" cy="389.50" r="1.4" fill="#c8102e"/>
<circle cx="146.40" cy="390.00" r="1.4" fill="#c8102e"/>
<circle cx="142.50" cy="395.80" r="1.4" fill="#c8102e"/>
<circle cx="145.90" cy="393.80" r="1.4" fill="#c8102e"/>
<circle cx="148.80" cy="394.30" r="1.4" fill="#c8102e"/>
<circle cx="154.50" cy="394.80" r="1.4" fill="#c8102e"/>
<circle cx="143.50" cy="399.10" r="1.4" fill="#c8102e"/>
<circle cx="147.30" cy="398.70" r="1.4" fill="#c8102e"/>
<circle cx="141.60" cy="402.00" r="1.4" fill="#c8102e"/>
<circle cx="138.70" cy="403.00" r="1.4" fill="#c8102e"/>
<circle cx="145.40" cy="405.90" r="1.4" fill="#c8102e"/>
<circle cx="141.60" cy="407.30" r="1.4" fill="#c8102e"/>
<circle cx="146.80" cy="408.30" r="1.4" fill="#c8102e"/>
<circle cx="146.80" cy="411.20" r="1.4" fill="#c8102e"/>
<circle cx="140.60" cy="409.70" r="1.4" fill="#c8102e"/>
<circle cx="143.50" cy="412.60" r="1.4" fill="#c8102e"/>
<circle cx="141.10" cy="415.50" r="1.4" fill="#c8102e"/>
<circle cx="138.20" cy="415.50" r="1.4" fill="#c8102e"/>
<circle cx="144.00" cy="418.40" r="1.4" fill="#c8102e"/>
<circle cx="140.10" cy="418.80" r="1.4" fill="#c8102e"/>
<circle cx="141.10" cy="420.80" r="1.4" fill="#c8102e"/>
<circle cx="137.20" cy="421.70" r="1.4" fill="#c8102e"/>
<circle cx="140.60" cy="423.70" r="1.4" fill="#c8102e"/>
<circle cx="135.30" cy="423.20" r="1.4" fill="#c8102e"/>
<circle cx="77.60" cy="350.70" r="1.4" fill="#c8102e"/>
<circle cx="84.50" cy="360.70" r="1.4" fill="#c8102e"/>
<circle cx="86.90" cy="360.30" r="1.4" fill="#c8102e"/>
<circle cx="79.10" cy="363.70" r="1.4" fill="#c8102e"/>
<circle cx="77.00" cy="367.50" r="1.4" fill="#c8102e"/>
<circle cx="85.20" cy="378.80" r="1.4" fill="#c8102e"/>
<circle cx="86.40" cy="380.00" r="1.4" fill="#c8102e"/>
<circle cx="84.50" cy="382.30" r="1.4" fill="#c8102e"/>
<circle cx="85.60" cy="381.20" r="1.4" fill="#c8102e"/>
<circle cx="89.80" cy="384.40" r="1.4" fill="#c8102e"/>
<circle cx="77.90" cy="387.70" r="1.4" fill="#c8102e"/>
<circle cx="81.00" cy="386.90" r="1.4" fill="#c8102e"/>
<circle cx="76.80" cy="391.20" r="1.4" fill="#c8102e"/>
<circle cx="80.60" cy="391.50" r="1.4" fill="#c8102e"/>
<circle cx="83.70" cy="390.80" r="1.4" fill="#c8102e"/>
<circle cx="86.00" cy="391.50" r="1.4" fill="#c8102e"/>
<circle cx="82.50" cy="393.50" r="1.4" fill="#c8102e"/>
<circle cx="84.80" cy="393.10" r="1.4" fill="#c8102e"/>
<circle cx="86.80" cy="394.20" r="1.4" fill="#c8102e"/>
<circle cx="82.90" cy="395.80" r="1.4" fill="#c8102e"/>
<circle cx="85.20" cy="396.20" r="1.4" fill="#c8102e"/>
<circle cx="90.60" cy="395.60" r="1.4" fill="#c8102e"/>
<circle cx="83.70" cy="398.10" r="1.4" fill="#c8102e"/>
<circle cx="86.40" cy="398.10" r="1.4" fill="#c8102e"/>
<circle cx="77.90" cy="401.50" r="1.4" fill="#c8102e"/>
<circle cx="77.50" cy="404.20" r="1.4" fill="#c8102e"/>
<circle cx="91.40" cy="400.40" r="1.4" fill="#c8102e"/>
<circle cx="88.30" cy="401.90" r="1.4" fill="#c8102e"/>
<circle cx="87.20" cy="403.50" r="1.4" fill="#c8102e"/>
<circle cx="91.40" cy="403.10" r="1.4" fill="#c8102e"/>
<circle cx="89.10" cy="405.00" r="1.4" fill="#c8102e"/>
<circle cx="92.50" cy="405.80" r="1.4" fill="#c8102e"/>
<circle cx="90.60" cy="407.30" r="1.4" fill="#c8102e"/>
<circle cx="92.90" cy="408.80" r="1.4" fill="#c8102e"/>
<circle cx="72.20" cy="410.40" r="1.4" fill="#c8102e"/>
<circle cx="77.50" cy="409.60" r="1.4" fill="#c8102e"/>
<circle cx="78.70" cy="411.50" r="1.4" fill="#c8102e"/>
<circle cx="80.60" cy="411.20" r="1.4" fill="#c8102e"/>
<circle cx="77.90" cy="413.50" r="1.4" fill="#c8102e"/>
<circle cx="79.80" cy="413.50" r="1.4" fill="#c8102e"/>
<circle cx="81.40" cy="415.00" r="1.4" fill="#c8102e"/>
<circle cx="83.70" cy="412.70" r="1.4" fill="#c8102e"/>
<circle cx="84.50" cy="416.50" r="1.4" fill="#c8102e"/>
<circle cx="76.80" cy="418.80" r="1.4" fill="#c8102e"/>
<circle cx="77.20" cy="421.20" r="1.4" fill="#c8102e"/>
<circle cx="79.80" cy="421.20" r="1.4" fill="#c8102e"/>
<circle cx="82.20" cy="421.90" r="1.4" fill="#c8102e"/>
</g>
<line x1="107.10" y1="26.50" x2="107.10" y2="445.50" stroke="#2a69a5" stroke-width="1.8"/>
<line x1="53.00" y1="439.60" x2="216.00" y2="439.60" stroke="#2a69a5" stroke-width="1.5"/>
<text x="194.80" y="435.60" font-size="6.6" fill="#222" textLength="22.1" lengthAdjust="spacingAndGlyphs" stroke="#222" stroke-width="0.12">P=0.05</text>
<text x="190.30" y="38.00" font-size="6.4" text-anchor="middle" fill="#222" stroke="#222" stroke-width="0.12">KLF2</text>
<rect x="197.80" y="40.90" width="2.00" height="2.00" fill="#1f5a9c"/>
<polygon points="65.50,242.20 63.90,245.08 67.10,245.08" fill="#1f5a9c"/>
<text x="68.80" y="246.10" font-size="6.4" fill="#222" stroke="#222" stroke-width="0.12">UNG</text>
<text x="145.30" y="240.20" font-size="6.4" text-anchor="middle" fill="#222" stroke="#222" stroke-width="0.12">JUN</text>
<rect x="153.30" y="238.20" width="2.00" height="1.80" fill="#1f5a9c"/>
<polygon points="154.50,280.90 152.90,283.78 156.10,283.78" fill="#1f5a9c"/>
<text x="158.00" y="284.50" font-size="6.4" fill="#222" stroke="#222" stroke-width="0.12">KLF6</text>
<polygon points="173.70,335.10 172.10,337.98 175.30,337.98" fill="#1f5a9c"/>
<text x="177.00" y="338.60" font-size="6.4" fill="#222" stroke="#222" stroke-width="0.12">CXCL10</text>
<polygon points="80.30,341.40 78.70,344.28 81.90,344.28" fill="#1f5a9c"/>
<text x="82.40" y="344.40" font-size="6.4" fill="#222" stroke="#222" stroke-width="0.12">MCM4</text>
<polygon points="84.20,346.70 82.60,349.58 85.80,349.58" fill="#1f5a9c"/>
<text x="86.50" y="350.90" font-size="6.4" fill="#222" stroke="#222" stroke-width="0.12">MCM2</text>
<text x="95.00" y="377.40" font-size="6.4" text-anchor="middle" fill="#222" stroke="#222" stroke-width="0.12">CCNE1</text>
<line x1="90.90" y1="378.70" x2="84.30" y2="386.50" stroke="#333" stroke-width="0.6"/>
<polygon points="84.30,385.00 82.80,387.70 85.80,387.70" fill="#1f5a9c"/>
<text x="64.70" y="382.80" font-size="6.4" text-anchor="middle" fill="#222" stroke="#222" stroke-width="0.12">CCNE2</text>
<line x1="66.40" y1="384.40" x2="69.20" y2="389.00" stroke="#333" stroke-width="0.6"/>
<polygon points="69.20,387.50 67.70,390.20 70.70,390.20" fill="#1f5a9c"/>
<text x="96.60" y="391.30" font-size="6.4" text-anchor="middle" fill="#222" stroke="#222" stroke-width="0.12">CDK2</text>
<line x1="91.10" y1="392.80" x2="88.30" y2="397.30" stroke="#333" stroke-width="0.6"/>
<polygon points="88.30,395.80 86.80,398.50 89.80,398.50" fill="#1f5a9c"/>
<text x="53.80" y="397.30" font-size="6.4" fill="#222" stroke="#222" stroke-width="0.12">E2F2</text>
<line x1="68.80" y1="395.60" x2="84.00" y2="403.70" stroke="#333" stroke-width="0.6"/>
<polygon points="84.00,402.20 82.50,404.90 85.50,404.90" fill="#1f5a9c"/>
<text x="53.80" y="404.80" font-size="6.4" fill="#222" stroke="#222" stroke-width="0.12">E2F1</text>
<line x1="67.90" y1="403.70" x2="91.00" y2="419.80" stroke="#333" stroke-width="0.6"/>
<polygon points="91.00,418.30 89.50,421.00 92.50,421.00" fill="#1f5a9c"/>
<text x="53.80" y="415.80" font-size="6.4" fill="#222" stroke="#222" stroke-width="0.12">CCND1</text>
<line x1="71.90" y1="418.10" x2="80.20" y2="425.20" stroke="#333" stroke-width="0.6"/>
<polygon points="80.20,423.70 78.70,426.40 81.70,426.40" fill="#1f5a9c"/>
<text x="53.80" y="423.30" font-size="6.4" fill="#222" stroke="#222" stroke-width="0.12">TERT</text>
<line x1="69.00" y1="422.70" x2="89.20" y2="430.20" stroke="#333" stroke-width="0.6"/>
<polygon points="89.20,428.70 87.70,431.40 90.70,431.40" fill="#1f5a9c"/>
<text x="53.80" y="430.80" font-size="6.4" fill="#222" stroke="#222" stroke-width="0.12">DHODH</text>
<line x1="77.10" y1="428.50" x2="91.00" y2="433.10" stroke="#333" stroke-width="0.6"/>
<polygon points="91.00,431.60 89.50,434.30 92.50,434.30" fill="#1f5a9c"/>
<text x="53.80" y="437.70" font-size="6.4" fill="#222" stroke="#222" stroke-width="0.12">IDH2</text>
<line x1="71.30" y1="436.00" x2="99.00" y2="435.40" stroke="#333" stroke-width="0.6"/>
<polygon points="99.00,433.90 97.50,436.60 100.50,436.60" fill="#1f5a9c"/>
<text x="101.00" y="418.70" font-size="6.4" text-anchor="middle" fill="#222" stroke="#222" stroke-width="0.12">KIT</text>
<line x1="100.80" y1="421.00" x2="94.40" y2="431.90" stroke="#333" stroke-width="0.6"/>
<polygon points="94.40,430.40 92.90,433.10 95.90,433.10" fill="#1f5a9c"/>
<text x="163.80" y="387.25" font-size="6.4" fill="#222" stroke="#222" stroke-width="0.12">GADD45B</text>
<line x1="162.30" y1="384.85" x2="132.90" y2="392.70" stroke="#333" stroke-width="0.6"/>
<polygon points="132.90,391.20 131.40,393.90 134.40,393.90" fill="#1f5a9c"/>
<text x="163.80" y="395.60" font-size="6.4" fill="#222" stroke="#222" stroke-width="0.12">CDKN1C</text>
<line x1="162.30" y1="393.20" x2="132.30" y2="402.40" stroke="#333" stroke-width="0.6"/>
<polygon points="132.30,400.90 130.80,403.60 133.80,403.60" fill="#1f5a9c"/>
<text x="163.80" y="404.00" font-size="6.4" fill="#222" stroke="#222" stroke-width="0.12">CEBPB</text>
<line x1="162.30" y1="401.60" x2="123.30" y2="416.60" stroke="#333" stroke-width="0.6"/>
<polygon points="123.30,415.10 121.80,417.80 124.80,417.80" fill="#1f5a9c"/>
<text x="163.80" y="412.50" font-size="6.4" fill="#222" stroke="#222" stroke-width="0.12">CDKN2D</text>
<line x1="162.30" y1="410.10" x2="121.60" y2="424.50" stroke="#333" stroke-width="0.6"/>
<polygon points="121.60,423.00 120.10,425.70 123.10,425.70" fill="#1f5a9c"/>
<text x="163.80" y="421.00" font-size="6.4" fill="#222" stroke="#222" stroke-width="0.12">CDKN1A</text>
<line x1="162.30" y1="418.60" x2="115.80" y2="435.20" stroke="#333" stroke-width="0.6"/>
<polygon points="115.80,433.70 114.30,436.40 117.30,436.40" fill="#1f5a9c"/>
<text x="163.80" y="429.00" font-size="6.4" fill="#222" stroke="#222" stroke-width="0.12">KLF4</text>
<line x1="162.30" y1="426.60" x2="119.90" y2="435.70" stroke="#333" stroke-width="0.6"/>
<polygon points="119.90,434.20 118.40,436.90 121.40,436.90" fill="#1f5a9c"/>
<text x="163.80" y="437.50" font-size="6.4" fill="#222" stroke="#222" stroke-width="0.12">TP63</text>
<line x1="162.30" y1="435.10" x2="129.00" y2="436.50" stroke="#333" stroke-width="0.6"/>
<polygon points="129.00,435.00 127.50,437.70 130.50,437.70" fill="#1f5a9c"/>
<text x="261.20" y="15.80" font-size="11.7" font-weight="bold" fill="#000">B</text>
<line x1="365.50" y1="11.50" x2="365.50" y2="97.50" stroke="#111" stroke-width="0.9"/>
<line x1="365.05" y1="97.50" x2="456.50" y2="97.50" stroke="#111" stroke-width="0.9"/>
<text x="288.70" y="19.60" font-size="8.4" fill="#1a1a1a" textLength="71.2" lengthAdjust="spacingAndGlyphs" stroke="#1a1a1a" stroke-width="0.12">Proliferation of cells</text>
<line x1="362.40" y1="16.60" x2="365.50" y2="16.60" stroke="#111" stroke-width="0.8"/>
<text x="272.60" y="27.98" font-size="8.4" fill="#1a1a1a" textLength="87.3" lengthAdjust="spacingAndGlyphs" stroke="#1a1a1a" stroke-width="0.12">Cholesterol Biosynthesis</text>
<line x1="362.40" y1="24.98" x2="365.50" y2="24.98" stroke="#111" stroke-width="0.8"/>
<text x="263.70" y="36.36" font-size="8.4" fill="#1a1a1a" textLength="96.2" lengthAdjust="spacingAndGlyphs" stroke="#1a1a1a" stroke-width="0.12">DNA replication and repair</text>
<line x1="362.40" y1="33.36" x2="365.50" y2="33.36" stroke="#111" stroke-width="0.8"/>
<text x="281.20" y="44.74" font-size="8.4" fill="#1a1a1a" textLength="78.7" lengthAdjust="spacingAndGlyphs" stroke="#1a1a1a" stroke-width="0.12">Differentiation of cells</text>
<line x1="362.40" y1="41.74" x2="365.50" y2="41.74" stroke="#111" stroke-width="0.8"/>
<text x="272.60" y="53.12" font-size="8.4" fill="#1a1a1a" textLength="87.3" lengthAdjust="spacingAndGlyphs" stroke="#1a1a1a" stroke-width="0.12">Formation of γH2AX foci</text>
<line x1="362.40" y1="50.12" x2="365.50" y2="50.12" stroke="#111" stroke-width="0.8"/>
<text x="286.00" y="61.50" font-size="8.4" fill="#1a1a1a" textLength="73.9" lengthAdjust="spacingAndGlyphs" stroke="#1a1a1a" stroke-width="0.12">Cellular homeostasis</text>
<line x1="362.40" y1="58.50" x2="365.50" y2="58.50" stroke="#111" stroke-width="0.8"/>
<text x="311.40" y="69.88" font-size="8.4" fill="#1a1a1a" textLength="48.5" lengthAdjust="spacingAndGlyphs" stroke="#1a1a1a" stroke-width="0.12">S phase entry</text>
<line x1="362.40" y1="66.88" x2="365.50" y2="66.88" stroke="#111" stroke-width="0.8"/>
<text x="262.80" y="78.26" font-size="8.4" fill="#1a1a1a" textLength="97.1" lengthAdjust="spacingAndGlyphs" stroke="#1a1a1a" stroke-width="0.12">Hematopoietic progenitors</text>
<line x1="362.40" y1="75.26" x2="365.50" y2="75.26" stroke="#111" stroke-width="0.8"/>
<text x="272.60" y="86.64" font-size="8.4" fill="#1a1a1a" textLength="87.3" lengthAdjust="spacingAndGlyphs" stroke="#1a1a1a" stroke-width="0.12">Cell death of tumor cells</text>
<line x1="362.40" y1="83.64" x2="365.50" y2="83.64" stroke="#111" stroke-width="0.8"/>
<text x="287.30" y="95.02" font-size="8.4" fill="#1a1a1a" textLength="72.6" lengthAdjust="spacingAndGlyphs" stroke="#1a1a1a" stroke-width="0.12">Cell cycle regulation</text>
<line x1="362.40" y1="92.02" x2="365.50" y2="92.02" stroke="#111" stroke-width="0.8"/>
<line x1="365.50" y1="97.50" x2="365.50" y2="99.80" stroke="#111" stroke-width="0.8"/>
<text x="365.50" y="110.10" font-size="7.6" text-anchor="middle" fill="#222" stroke="#222" stroke-width="0.12">0</text>
<line x1="377.77" y1="97.50" x2="377.77" y2="99.80" stroke="#111" stroke-width="0.8"/>
<text x="377.77" y="110.10" font-size="7.6" text-anchor="middle" fill="#222" stroke="#222" stroke-width="0.12">5</text>
<line x1="390.04" y1="97.50" x2="390.04" y2="99.80" stroke="#111" stroke-width="0.8"/>
<text x="390.04" y="110.10" font-size="7.6" text-anchor="middle" fill="#222" stroke="#222" stroke-width="0.12">10</text>
<line x1="402.31" y1="97.50" x2="402.31" y2="99.80" stroke="#111" stroke-width="0.8"/>
<text x="402.31" y="110.10" font-size="7.6" text-anchor="middle" fill="#222" stroke="#222" stroke-width="0.12">15</text>
<line x1="414.58" y1="97.50" x2="414.58" y2="99.80" stroke="#111" stroke-width="0.8"/>
<text x="414.58" y="110.10" font-size="7.6" text-anchor="middle" fill="#222" stroke="#222" stroke-width="0.12">20</text>
<line x1="426.85" y1="97.50" x2="426.85" y2="99.80" stroke="#111" stroke-width="0.8"/>
<text x="426.85" y="110.10" font-size="7.6" text-anchor="middle" fill="#222" stroke="#222" stroke-width="0.12">25</text>
<line x1="439.12" y1="97.50" x2="439.12" y2="99.80" stroke="#111" stroke-width="0.8"/>
<text x="439.12" y="110.10" font-size="7.6" text-anchor="middle" fill="#222" stroke="#222" stroke-width="0.12">30</text>
<line x1="451.39" y1="97.50" x2="451.39" y2="99.80" stroke="#111" stroke-width="0.8"/>
<text x="451.39" y="110.10" font-size="7.6" text-anchor="middle" fill="#222" stroke="#222" stroke-width="0.12">35</text>
<text x="391.00" y="120.60" font-size="9.6" fill="#222" textLength="41.7" lengthAdjust="spacingAndGlyphs" stroke="#222" stroke-width="0.12">−log(p-value)</text>
<circle cx="441.50" cy="16.60" r="3.1" fill="#c8102e"/>
<circle cx="421.20" cy="24.98" r="1.5" fill="#1f5a9c"/>
<circle cx="409.80" cy="33.36" r="2.1" fill="#c8102e"/>
<circle cx="392.60" cy="41.74" r="2.7" fill="#1f5a9c"/>
<circle cx="387.40" cy="50.12" r="1.6" fill="#c8102e"/>
<circle cx="385.00" cy="58.50" r="2.7" fill="#1f5a9c"/>
<circle cx="385.00" cy="66.88" r="1.6" fill="#c8102e"/>
<circle cx="382.50" cy="75.26" r="2.0" fill="#c8102e"/>
<circle cx="382.50" cy="83.64" r="2.0" fill="#1f5a9c"/>
<circle cx="375.20" cy="92.02" r="1.6" fill="#3cb44b"/>
<text x="465.50" y="16.40" font-size="8.2" fill="#1a1a1a" textLength="43.6" lengthAdjust="spacingAndGlyphs" stroke="#1a1a1a" stroke-width="0.12">No. of genes</text>
<circle cx="471.20" cy="25.20" r="2.6" fill="#8a8a8a"/>
<text x="477.60" y="28.10" font-size="8.2" fill="#1a1a1a" textLength="21.5" lengthAdjust="spacingAndGlyphs" stroke="#1a1a1a" stroke-width="0.12">&gt;1000</text>
<circle cx="471.20" cy="36.30" r="2.0" fill="#8a8a8a"/>
<text x="477.60" y="39.20" font-size="8.2" fill="#1a1a1a" textLength="28.6" lengthAdjust="spacingAndGlyphs" stroke="#1a1a1a" stroke-width="0.12">400–600</text>
<circle cx="471.20" cy="46.50" r="1.5" fill="#8a8a8a"/>
<text x="477.60" y="49.40" font-size="8.2" fill="#1a1a1a" textLength="28.6" lengthAdjust="spacingAndGlyphs" stroke="#1a1a1a" stroke-width="0.12">100–200</text>
<circle cx="471.20" cy="56.60" r="1.3" fill="#8a8a8a"/>
<text x="477.60" y="59.50" font-size="8.2" fill="#1a1a1a" textLength="16.9" lengthAdjust="spacingAndGlyphs" stroke="#1a1a1a" stroke-width="0.12">0–50</text>
<circle cx="472.10" cy="72.60" r="2.7" fill="#c8102e"/>
<text x="477.60" y="75.50" font-size="8.2" fill="#1a1a1a" textLength="35.3" lengthAdjust="spacingAndGlyphs" stroke="#1a1a1a" stroke-width="0.12">Decreased</text>
<circle cx="472.10" cy="82.80" r="2.7" fill="#1f5a9c"/>
<text x="477.60" y="85.70" font-size="8.2" fill="#1a1a1a" textLength="32.2" lengthAdjust="spacingAndGlyphs" stroke="#1a1a1a" stroke-width="0.12">Increased</text>
<circle cx="472.10" cy="92.60" r="2.7" fill="#3cb44b"/>
<text x="477.60" y="95.50" font-size="8.2" fill="#1a1a1a" textLength="28.6" lengthAdjust="spacingAndGlyphs" stroke="#1a1a1a" stroke-width="0.12">Affected</text>
<rect x="190.80" y="130.10" width="157.90" height="169.50" fill="#e9e9e9"/>
<text x="193.00" y="141.30" font-size="12.6" font-weight="bold" fill="#000">C</text>
<text x="284.20" y="138.80" font-size="8.5" text-anchor="middle" fill="#111" stroke="#111" stroke-width="0.12">Myc signature</text>
<rect x="223.50" y="143.50" width="123.00" height="117.50" fill="#fff"/>
<line x1="244.35" y1="143.50" x2="244.35" y2="199.50" stroke="#f0f0f0" stroke-width="0.6"/>
<line x1="244.35" y1="223.10" x2="244.35" y2="261.00" stroke="#f0f0f0" stroke-width="0.6"/>
<line x1="265.20" y1="143.50" x2="265.20" y2="199.50" stroke="#f0f0f0" stroke-width="0.6"/>
<line x1="265.20" y1="223.10" x2="265.20" y2="261.00" stroke="#f0f0f0" stroke-width="0.6"/>
<line x1="286.05" y1="143.50" x2="286.05" y2="199.50" stroke="#f0f0f0" stroke-width="0.6"/>
<line x1="286.05" y1="223.10" x2="286.05" y2="261.00" stroke="#f0f0f0" stroke-width="0.6"/>
<line x1="306.90" y1="143.50" x2="306.90" y2="199.50" stroke="#f0f0f0" stroke-width="0.6"/>
<line x1="306.90" y1="223.10" x2="306.90" y2="261.00" stroke="#f0f0f0" stroke-width="0.6"/>
<line x1="327.75" y1="143.50" x2="327.75" y2="199.50" stroke="#f0f0f0" stroke-width="0.6"/>
<line x1="327.75" y1="223.10" x2="327.75" y2="261.00" stroke="#f0f0f0" stroke-width="0.6"/>
<line x1="223.50" y1="152.18" x2="346.50" y2="152.18" stroke="#f3f3f3" stroke-width="0.6"/>
<line x1="223.50" y1="158.95" x2="346.50" y2="158.95" stroke="#f3f3f3" stroke-width="0.6"/>
<line x1="223.50" y1="165.73" x2="346.50" y2="165.73" stroke="#f3f3f3" stroke-width="0.6"/>
<line x1="223.50" y1="172.50" x2="346.50" y2="172.50" stroke="#f3f3f3" stroke-width="0.6"/>
<line x1="223.50" y1="179.28" x2="346.50" y2="179.28" stroke="#f3f3f3" stroke-width="0.6"/>
<line x1="223.50" y1="186.05" x2="346.50" y2="186.05" stroke="#f3f3f3" stroke-width="0.6"/>
<line x1="223.50" y1="192.83" x2="346.50" y2="192.83" stroke="#f3f3f3" stroke-width="0.6"/>
<rect x="230.40" y="199.50" width="0.70" height="19.50" fill="#c8c8c8"/>
<rect x="241.10" y="199.50" width="0.60" height="19.50" fill="#555"/>
<rect x="244.20" y="199.50" width="0.60" height="19.50" fill="#555"/>
<rect x="246.10" y="199.50" width="4.60" height="19.50" fill="#454545"/>
<rect x="308.10" y="199.50" width="2.70" height="19.50" fill="#888"/>
<rect x="310.80" y="199.50" width="1.10" height="19.50" fill="#111"/>
<rect x="311.90" y="199.50" width="1.60" height="19.50" fill="#ddd"/>
<rect x="313.50" y="199.50" width="3.00" height="19.50" fill="#777"/>
<rect x="316.50" y="199.50" width="0.80" height="19.50" fill="#bbb"/>
<rect x="317.30" y="199.50" width="2.70" height="19.50" fill="#999"/>
<rect x="320.00" y="199.50" width="1.50" height="19.50" fill="#444"/>
<rect x="321.50" y="199.50" width="1.60" height="19.50" fill="#111"/>
<rect x="323.10" y="199.50" width="1.90" height="19.50" fill="#aaa"/>
<rect x="328.10" y="199.50" width="1.90" height="19.50" fill="#000"/>
<rect x="330.00" y="199.50" width="1.20" height="19.50" fill="#444"/>
<rect x="331.20" y="199.50" width="3.80" height="19.50" fill="#000"/>
<rect x="335.00" y="199.50" width="2.30" height="19.50" fill="#666"/>
<rect x="337.30" y="199.50" width="2.70" height="19.50" fill="#000"/>
<rect x="223.50" y="219.00" width="21.60" height="4.10" fill="#e8404a"/>
<rect x="245.10" y="219.00" width="3.80" height="4.10" fill="#e87080"/>
<rect x="248.90" y="219.00" width="59.30" height="4.10" fill="#f7bcd4"/>
<rect x="308.20" y="219.00" width="21.60" height="4.10" fill="#cfcff0"/>
<rect x="329.80" y="219.00" width="10.60" height="4.10" fill="#3030a0"/>
<path d="M223.5,244.7 L223.5,235.5 C225.0,240 228.5,242.3 233.5,243.4 L248.5,244.3 L250.5,244.7 Z" fill="#c9c9c9"/>
<path d="M307.9,244.7 L307.9,245.2 L324.5,246.3 L333.5,247.1 L338.5,248.3 C340.0,250 340.5,255 340.8,259.5 L341.0,244.7 Z" fill="#c9c9c9"/>
<line x1="251.00" y1="223.10" x2="251.00" y2="261.00" stroke="#bbb" stroke-width="0.6" stroke-dasharray="1,1"/>
<polyline points="223.6,145.3 230.8,149.6 241.5,155.8 250.8,161.2 260.0,165.8 270.0,170.9 278.7,175.2 287.3,180.4 296.0,185.6 304.6,190.8 313.3,195.1 318.5,196.5 321.9,196.3 323.7,194.7 325.4,195.1 328.0,196.5 330.6,193.4 333.2,185.6 334.9,176.9 336.6,166.5 338.4,156.2 340.6,145.4" fill="none" stroke="#5cbf3a" stroke-width="1.2" stroke-linejoin="round"/>
<line x1="223.50" y1="143.50" x2="346.50" y2="143.50" stroke="#333" stroke-width="1.0"/>
<line x1="223.50" y1="199.50" x2="346.50" y2="199.50" stroke="#333" stroke-width="1.0"/>
<line x1="223.50" y1="219.00" x2="346.50" y2="219.00" stroke="#333" stroke-width="0.6"/>
<line x1="223.50" y1="223.10" x2="346.50" y2="223.10" stroke="#333" stroke-width="0.8"/>
<rect x="223.5" y="143.5" width="123.0" height="117.5" fill="none" stroke="#222" stroke-width="1.1"/>
<line x1="221.30" y1="145.40" x2="223.50" y2="145.40" stroke="#222" stroke-width="0.8"/>
<text x="220.10" y="147.90" font-size="7.2" text-anchor="end" fill="#222" textLength="9.4" lengthAdjust="spacingAndGlyphs" stroke="#222" stroke-width="0.12">0.0</text>
<line x1="221.30" y1="152.18" x2="223.50" y2="152.18" stroke="#222" stroke-width="0.8"/>
<text x="220.10" y="154.68" font-size="7.2" text-anchor="end" fill="#222" textLength="11.8" lengthAdjust="spacingAndGlyphs" stroke="#222" stroke-width="0.12">-0.1</text>
<line x1="221.30" y1="158.95" x2="223.50" y2="158.95" stroke="#222" stroke-width="0.8"/>
<text x="220.10" y="161.45" font-size="7.2" text-anchor="end" fill="#222" textLength="11.8" lengthAdjust="spacingAndGlyphs" stroke="#222" stroke-width="0.12">-0.2</text>
<line x1="221.30" y1="165.73" x2="223.50" y2="165.73" stroke="#222" stroke-width="0.8"/>
<text x="220.10" y="168.23" font-size="7.2" text-anchor="end" fill="#222" textLength="11.8" lengthAdjust="spacingAndGlyphs" stroke="#222" stroke-width="0.12">-0.3</text>
<line x1="221.30" y1="172.50" x2="223.50" y2="172.50" stroke="#222" stroke-width="0.8"/>
<text x="220.10" y="175.00" font-size="7.2" text-anchor="end" fill="#222" textLength="11.8" lengthAdjust="spacingAndGlyphs" stroke="#222" stroke-width="0.12">-0.4</text>
<line x1="221.30" y1="179.28" x2="223.50" y2="179.28" stroke="#222" stroke-width="0.8"/>
<text x="220.10" y="181.78" font-size="7.2" text-anchor="end" fill="#222" textLength="11.8" lengthAdjust="spacingAndGlyphs" stroke="#222" stroke-width="0.12">-0.5</text>
<line x1="221.30" y1="186.05" x2="223.50" y2="186.05" stroke="#222" stroke-width="0.8"/>
<text x="220.10" y="188.55" font-size="7.2" text-anchor="end" fill="#222" textLength="11.8" lengthAdjust="spacingAndGlyphs" stroke="#222" stroke-width="0.12">-0.6</text>
<line x1="221.30" y1="192.83" x2="223.50" y2="192.83" stroke="#222" stroke-width="0.8"/>
<text x="220.10" y="195.33" font-size="7.2" text-anchor="end" fill="#222" textLength="11.8" lengthAdjust="spacingAndGlyphs" stroke="#222" stroke-width="0.12">-0.7</text>
<line x1="221.30" y1="199.60" x2="223.50" y2="199.60" stroke="#222" stroke-width="0.8"/>
<text x="220.10" y="202.10" font-size="7.2" text-anchor="end" fill="#222" textLength="11.8" lengthAdjust="spacingAndGlyphs" stroke="#222" stroke-width="0.12">-0.8</text>
<text transform="translate(205.5,172.7) rotate(-90)" font-size="6.4" text-anchor="middle" fill="#222" textLength="46" lengthAdjust="spacingAndGlyphs">Enrichment score (ES)</text>
<line x1="221.30" y1="223.35" x2="223.50" y2="223.35" stroke="#222" stroke-width="0.8"/>
<text x="220.10" y="225.85" font-size="7.2" text-anchor="end" fill="#222" textLength="9.4" lengthAdjust="spacingAndGlyphs" stroke="#222" stroke-width="0.12">5.0</text>
<line x1="221.30" y1="234.12" x2="223.50" y2="234.12" stroke="#222" stroke-width="0.8"/>
<text x="220.10" y="236.62" font-size="7.2" text-anchor="end" fill="#222" textLength="9.4" lengthAdjust="spacingAndGlyphs" stroke="#222" stroke-width="0.12">2.5</text>
<line x1="221.30" y1="244.90" x2="223.50" y2="244.90" stroke="#222" stroke-width="0.8"/>
<text x="220.10" y="247.40" font-size="7.2" text-anchor="end" fill="#222" textLength="9.4" lengthAdjust="spacingAndGlyphs" stroke="#222" stroke-width="0.12">0.0</text>
<line x1="221.30" y1="255.68" x2="223.50" y2="255.68" stroke="#222" stroke-width="0.8"/>
<text x="220.10" y="258.18" font-size="7.2" text-anchor="end" fill="#222" textLength="11.8" lengthAdjust="spacingAndGlyphs" stroke="#222" stroke-width="0.12">-2.5</text>
<text transform="translate(199.3,240.0) rotate(-90)" font-size="6.4" text-anchor="middle" fill="#222" textLength="38" lengthAdjust="spacingAndGlyphs">Ranked list metric</text>
<text transform="translate(205.9,240.0) rotate(-90)" font-size="6.4" text-anchor="middle" fill="#222" textLength="32.8" lengthAdjust="spacingAndGlyphs">(Signal2Noise)</text>
<line x1="223.50" y1="261.00" x2="223.50" y2="263.40" stroke="#222" stroke-width="0.8"/>
<text x="223.50" y="273.70" font-size="8.3" text-anchor="middle" fill="#222" stroke="#222" stroke-width="0.12">0</text>
<line x1="244.35" y1="261.00" x2="244.35" y2="263.40" stroke="#222" stroke-width="0.8"/>
<text x="244.35" y="273.70" font-size="8.3" text-anchor="middle" fill="#222" textLength="18.5" lengthAdjust="spacingAndGlyphs" stroke="#222" stroke-width="0.12">10,000</text>
<line x1="265.20" y1="261.00" x2="265.20" y2="263.40" stroke="#222" stroke-width="0.8"/>
<text x="265.20" y="273.70" font-size="8.3" text-anchor="middle" fill="#222" textLength="18.5" lengthAdjust="spacingAndGlyphs" stroke="#222" stroke-width="0.12">20,000</text>
<line x1="286.05" y1="261.00" x2="286.05" y2="263.40" stroke="#222" stroke-width="0.8"/>
<text x="286.05" y="273.70" font-size="8.3" text-anchor="middle" fill="#222" textLength="18.5" lengthAdjust="spacingAndGlyphs" stroke="#222" stroke-width="0.12">30,000</text>
<line x1="306.90" y1="261.00" x2="306.90" y2="263.40" stroke="#222" stroke-width="0.8"/>
<text x="306.90" y="273.70" font-size="8.3" text-anchor="middle" fill="#222" textLength="18.5" lengthAdjust="spacingAndGlyphs" stroke="#222" stroke-width="0.12">40,000</text>
<line x1="327.75" y1="261.00" x2="327.75" y2="263.40" stroke="#222" stroke-width="0.8"/>
<text x="327.75" y="273.70" font-size="8.3" text-anchor="middle" fill="#222" textLength="18.5" lengthAdjust="spacingAndGlyphs" stroke="#222" stroke-width="0.12">50,000</text>
<text x="285.00" y="282.90" font-size="7.0" text-anchor="middle" fill="#222" textLength="58" lengthAdjust="spacingAndGlyphs" stroke="#222" stroke-width="0.12">Rank in ordered dataset</text>
<text x="288.60" y="162.00" font-size="7.4" fill="#111" textLength="31.1" lengthAdjust="spacingAndGlyphs" stroke="#111" stroke-width="0.12">p &lt; 0.001</text>
<text x="280.70" y="172.30" font-size="7.4" fill="#111" textLength="46.8" lengthAdjust="spacingAndGlyphs" stroke="#111" stroke-width="0.12">FDR q &lt; 0.001</text>
<text x="225.60" y="231.90" font-size="7.0" fill="#e0446a" textLength="70" lengthAdjust="spacingAndGlyphs" stroke="#e0446a" stroke-width="0.12">'Drug' (positively correlated)</text>
<text x="237.70" y="242.20" font-size="8.2" fill="#111" textLength="49.5" lengthAdjust="spacingAndGlyphs" stroke="#111" stroke-width="0.12">Zero cross at 13185</text>
<text x="257.00" y="258.00" font-size="7.0" fill="#3a7abf" textLength="78.5" lengthAdjust="spacingAndGlyphs" stroke="#3a7abf" stroke-width="0.12">'Control' (negatively correlated)</text>
<rect x="196.2" y="287.7" width="145.5" height="9.9" fill="#fff" stroke="#555" stroke-width="0.8"/>
<line x1="199.70" y1="292.70" x2="202.40" y2="292.70" stroke="#5cbf3a" stroke-width="1.5"/>
<text x="205.30" y="295.00" font-size="6.6" fill="#222" textLength="46.7" lengthAdjust="spacingAndGlyphs" stroke="#222" stroke-width="0.12">Enrichment profile</text>
<line x1="257.60" y1="292.70" x2="260.80" y2="292.70" stroke="#222" stroke-width="1.5"/>
<text x="264.10" y="295.00" font-size="6.6" fill="#222" textLength="9.8" lengthAdjust="spacingAndGlyphs" stroke="#222" stroke-width="0.12">Hits</text>
<line x1="279.80" y1="292.70" x2="283.00" y2="292.70" stroke="#aaa" stroke-width="1.2"/>
<text x="285.70" y="295.00" font-size="6.6" fill="#222" textLength="55.6" lengthAdjust="spacingAndGlyphs" stroke="#222" stroke-width="0.12">Ranking metric scores</text>
<rect x="351.60" y="130.20" width="161.40" height="169.80" fill="#e9e9e9"/>
<text x="447.50" y="138.80" font-size="8.5" text-anchor="middle" fill="#111" stroke="#111" stroke-width="0.12">E2F signature</text>
<rect x="386.50" y="143.50" width="125.00" height="117.50" fill="#fff"/>
<line x1="407.35" y1="143.50" x2="407.35" y2="199.50" stroke="#f0f0f0" stroke-width="0.6"/>
<line x1="407.35" y1="223.10" x2="407.35" y2="261.00" stroke="#f0f0f0" stroke-width="0.6"/>
<line x1="428.20" y1="143.50" x2="428.20" y2="199.50" stroke="#f0f0f0" stroke-width="0.6"/>
<line x1="428.20" y1="223.10" x2="428.20" y2="261.00" stroke="#f0f0f0" stroke-width="0.6"/>
<line x1="449.05" y1="143.50" x2="449.05" y2="199.50" stroke="#f0f0f0" stroke-width="0.6"/>
<line x1="449.05" y1="223.10" x2="449.05" y2="261.00" stroke="#f0f0f0" stroke-width="0.6"/>
<line x1="469.90" y1="143.50" x2="469.90" y2="199.50" stroke="#f0f0f0" stroke-width="0.6"/>
<line x1="469.90" y1="223.10" x2="469.90" y2="261.00" stroke="#f0f0f0" stroke-width="0.6"/>
<line x1="490.75" y1="143.50" x2="490.75" y2="199.50" stroke="#f0f0f0" stroke-width="0.6"/>
<line x1="490.75" y1="223.10" x2="490.75" y2="261.00" stroke="#f0f0f0" stroke-width="0.6"/>
<line x1="386.50" y1="152.18" x2="511.50" y2="152.18" stroke="#f3f3f3" stroke-width="0.6"/>
<line x1="386.50" y1="158.95" x2="511.50" y2="158.95" stroke="#f3f3f3" stroke-width="0.6"/>
<line x1="386.50" y1="165.73" x2="511.50" y2="165.73" stroke="#f3f3f3" stroke-width="0.6"/>
<line x1="386.50" y1="172.50" x2="511.50" y2="172.50" stroke="#f3f3f3" stroke-width="0.6"/>
<line x1="386.50" y1="179.28" x2="511.50" y2="179.28" stroke="#f3f3f3" stroke-width="0.6"/>
<line x1="386.50" y1="186.05" x2="511.50" y2="186.05" stroke="#f3f3f3" stroke-width="0.6"/>
<line x1="386.50" y1="192.83" x2="511.50" y2="192.83" stroke="#f3f3f3" stroke-width="0.6"/>
<rect x="388.50" y="199.50" width="0.50" height="19.50" fill="#ccc"/>
<rect x="393.10" y="199.50" width="0.60" height="19.50" fill="#333"/>
<rect x="396.80" y="199.50" width="0.60" height="19.50" fill="#ccc"/>
<rect x="406.20" y="199.50" width="0.60" height="19.50" fill="#aaa"/>
<rect x="410.00" y="199.50" width="0.60" height="19.50" fill="#333"/>
<rect x="410.90" y="199.50" width="3.10" height="19.50" fill="#bbb"/>
<rect x="473.10" y="199.50" width="1.00" height="19.50" fill="#111"/>
<rect x="474.60" y="199.50" width="2.90" height="19.50" fill="#aaa"/>
<rect x="477.50" y="199.50" width="0.90" height="19.50" fill="#333"/>
<rect x="478.40" y="199.50" width="1.90" height="19.50" fill="#999"/>
<rect x="480.80" y="199.50" width="1.00" height="19.50" fill="#333"/>
<rect x="482.30" y="199.50" width="2.40" height="19.50" fill="#999"/>
<rect x="485.20" y="199.50" width="4.30" height="19.50" fill="#000"/>
<rect x="492.80" y="199.50" width="2.00" height="19.50" fill="#000"/>
<rect x="496.20" y="199.50" width="5.80" height="19.50" fill="#000"/>
<rect x="502.00" y="199.50" width="1.00" height="19.50" fill="#888"/>
<rect x="503.00" y="199.50" width="2.80" height="19.50" fill="#000"/>
<rect x="386.50" y="219.00" width="22.00" height="4.10" fill="#e8404a"/>
<rect x="408.50" y="219.00" width="2.40" height="4.10" fill="#e87080"/>
<rect x="410.90" y="219.00" width="62.20" height="4.10" fill="#f7bcd4"/>
<rect x="473.10" y="219.00" width="22.60" height="4.10" fill="#cfcff0"/>
<rect x="495.70" y="219.00" width="10.10" height="4.10" fill="#3030a0"/>
<path d="M386.5,244.7 L386.5,235.5 C388.0,240 391.5,242.3 396.5,243.4 L411.5,244.3 L413.5,244.7 Z" fill="#c9c9c9"/>
<path d="M470.9,244.7 L470.9,245.2 L487.5,246.3 L496.5,247.1 L501.5,248.3 C503.0,250 503.5,255 503.8,259.5 L504.0,244.7 Z" fill="#c9c9c9"/>
<line x1="414.00" y1="223.10" x2="414.00" y2="261.00" stroke="#bbb" stroke-width="0.6" stroke-dasharray="1,1"/>
<polyline points="386.3,144.8 392.1,147.2 398.9,150.2 412.3,157.0 429.1,165.4 446.0,174.8 462.8,183.9 476.3,192.3 483.0,196.7 486.0,196.6 488.0,195.7 490.4,193.3 493.1,194.7 496.5,192.3 499.8,185.6 501.5,178.9 503.2,173.8 504.9,158.7 505.9,145.4" fill="none" stroke="#5cbf3a" stroke-width="1.2" stroke-linejoin="round"/>
<line x1="386.50" y1="143.50" x2="511.50" y2="143.50" stroke="#333" stroke-width="1.0"/>
<line x1="386.50" y1="199.50" x2="511.50" y2="199.50" stroke="#333" stroke-width="1.0"/>
<line x1="386.50" y1="219.00" x2="511.50" y2="219.00" stroke="#333" stroke-width="0.6"/>
<line x1="386.50" y1="223.10" x2="511.50" y2="223.10" stroke="#333" stroke-width="0.8"/>
<rect x="386.5" y="143.5" width="125.0" height="117.5" fill="none" stroke="#222" stroke-width="1.1"/>
<line x1="384.30" y1="145.40" x2="386.50" y2="145.40" stroke="#222" stroke-width="0.8"/>
<text x="383.10" y="147.90" font-size="7.2" text-anchor="end" fill="#222" textLength="9.4" lengthAdjust="spacingAndGlyphs" stroke="#222" stroke-width="0.12">0.0</text>
<line x1="384.30" y1="152.18" x2="386.50" y2="152.18" stroke="#222" stroke-width="0.8"/>
<text x="383.10" y="154.68" font-size="7.2" text-anchor="end" fill="#222" textLength="11.8" lengthAdjust="spacingAndGlyphs" stroke="#222" stroke-width="0.12">-0.1</text>
<line x1="384.30" y1="158.95" x2="386.50" y2="158.95" stroke="#222" stroke-width="0.8"/>
<text x="383.10" y="161.45" font-size="7.2" text-anchor="end" fill="#222" textLength="11.8" lengthAdjust="spacingAndGlyphs" stroke="#222" stroke-width="0.12">-0.2</text>
<line x1="384.30" y1="165.73" x2="386.50" y2="165.73" stroke="#222" stroke-width="0.8"/>
<text x="383.10" y="168.23" font-size="7.2" text-anchor="end" fill="#222" textLength="11.8" lengthAdjust="spacingAndGlyphs" stroke="#222" stroke-width="0.12">-0.3</text>
<line x1="384.30" y1="172.50" x2="386.50" y2="172.50" stroke="#222" stroke-width="0.8"/>
<text x="383.10" y="175.00" font-size="7.2" text-anchor="end" fill="#222" textLength="11.8" lengthAdjust="spacingAndGlyphs" stroke="#222" stroke-width="0.12">-0.4</text>
<line x1="384.30" y1="179.28" x2="386.50" y2="179.28" stroke="#222" stroke-width="0.8"/>
<text x="383.10" y="181.78" font-size="7.2" text-anchor="end" fill="#222" textLength="11.8" lengthAdjust="spacingAndGlyphs" stroke="#222" stroke-width="0.12">-0.5</text>
<line x1="384.30" y1="186.05" x2="386.50" y2="186.05" stroke="#222" stroke-width="0.8"/>
<text x="383.10" y="188.55" font-size="7.2" text-anchor="end" fill="#222" textLength="11.8" lengthAdjust="spacingAndGlyphs" stroke="#222" stroke-width="0.12">-0.6</text>
<line x1="384.30" y1="192.83" x2="386.50" y2="192.83" stroke="#222" stroke-width="0.8"/>
<text x="383.10" y="195.33" font-size="7.2" text-anchor="end" fill="#222" textLength="11.8" lengthAdjust="spacingAndGlyphs" stroke="#222" stroke-width="0.12">-0.7</text>
<line x1="384.30" y1="199.60" x2="386.50" y2="199.60" stroke="#222" stroke-width="0.8"/>
<text x="383.10" y="202.10" font-size="7.2" text-anchor="end" fill="#222" textLength="11.8" lengthAdjust="spacingAndGlyphs" stroke="#222" stroke-width="0.12">-0.8</text>
<text transform="translate(368.5,172.7) rotate(-90)" font-size="6.4" text-anchor="middle" fill="#222" textLength="46" lengthAdjust="spacingAndGlyphs">Enrichment score (ES)</text>
<line x1="384.30" y1="223.35" x2="386.50" y2="223.35" stroke="#222" stroke-width="0.8"/>
<text x="383.10" y="225.85" font-size="7.2" text-anchor="end" fill="#222" textLength="9.4" lengthAdjust="spacingAndGlyphs" stroke="#222" stroke-width="0.12">5.0</text>
<line x1="384.30" y1="234.12" x2="386.50" y2="234.12" stroke="#222" stroke-width="0.8"/>
<text x="383.10" y="236.62" font-size="7.2" text-anchor="end" fill="#222" textLength="9.4" lengthAdjust="spacingAndGlyphs" stroke="#222" stroke-width="0.12">2.5</text>
<line x1="384.30" y1="244.90" x2="386.50" y2="244.90" stroke="#222" stroke-width="0.8"/>
<text x="383.10" y="247.40" font-size="7.2" text-anchor="end" fill="#222" textLength="9.4" lengthAdjust="spacingAndGlyphs" stroke="#222" stroke-width="0.12">0.0</text>
<line x1="384.30" y1="255.68" x2="386.50" y2="255.68" stroke="#222" stroke-width="0.8"/>
<text x="383.10" y="258.18" font-size="7.2" text-anchor="end" fill="#222" textLength="11.8" lengthAdjust="spacingAndGlyphs" stroke="#222" stroke-width="0.12">-2.5</text>
<text transform="translate(362.3,240.0) rotate(-90)" font-size="6.4" text-anchor="middle" fill="#222" textLength="38" lengthAdjust="spacingAndGlyphs">Ranked list metric</text>
<text transform="translate(368.9,240.0) rotate(-90)" font-size="6.4" text-anchor="middle" fill="#222" textLength="32.8" lengthAdjust="spacingAndGlyphs">(Signal2Noise)</text>
<line x1="386.50" y1="261.00" x2="386.50" y2="263.40" stroke="#222" stroke-width="0.8"/>
<text x="386.50" y="273.70" font-size="8.3" text-anchor="middle" fill="#222" stroke="#222" stroke-width="0.12">0</text>
<line x1="407.35" y1="261.00" x2="407.35" y2="263.40" stroke="#222" stroke-width="0.8"/>
<text x="407.35" y="273.70" font-size="8.3" text-anchor="middle" fill="#222" textLength="18.5" lengthAdjust="spacingAndGlyphs" stroke="#222" stroke-width="0.12">10,000</text>
<line x1="428.20" y1="261.00" x2="428.20" y2="263.40" stroke="#222" stroke-width="0.8"/>
<text x="428.20" y="273.70" font-size="8.3" text-anchor="middle" fill="#222" textLength="18.5" lengthAdjust="spacingAndGlyphs" stroke="#222" stroke-width="0.12">20,000</text>
<line x1="449.05" y1="261.00" x2="449.05" y2="263.40" stroke="#222" stroke-width="0.8"/>
<text x="449.05" y="273.70" font-size="8.3" text-anchor="middle" fill="#222" textLength="18.5" lengthAdjust="spacingAndGlyphs" stroke="#222" stroke-width="0.12">30,000</text>
<line x1="469.90" y1="261.00" x2="469.90" y2="263.40" stroke="#222" stroke-width="0.8"/>
<text x="469.90" y="273.70" font-size="8.3" text-anchor="middle" fill="#222" textLength="18.5" lengthAdjust="spacingAndGlyphs" stroke="#222" stroke-width="0.12">40,000</text>
<line x1="490.75" y1="261.00" x2="490.75" y2="263.40" stroke="#222" stroke-width="0.8"/>
<text x="490.75" y="273.70" font-size="8.3" text-anchor="middle" fill="#222" textLength="18.5" lengthAdjust="spacingAndGlyphs" stroke="#222" stroke-width="0.12">50,000</text>
<text x="448.00" y="282.90" font-size="7.0" text-anchor="middle" fill="#222" textLength="58" lengthAdjust="spacingAndGlyphs" stroke="#222" stroke-width="0.12">Rank in ordered dataset</text>
<text x="459.80" y="163.30" font-size="7.4" fill="#111" textLength="31.1" lengthAdjust="spacingAndGlyphs" stroke="#111" stroke-width="0.12">p &lt; 0.001</text>
<text x="451.90" y="173.60" font-size="7.4" fill="#111" textLength="46.8" lengthAdjust="spacingAndGlyphs" stroke="#111" stroke-width="0.12">FDR q &lt; 0.001</text>
<text x="388.60" y="231.90" font-size="7.0" fill="#e0446a" textLength="70" lengthAdjust="spacingAndGlyphs" stroke="#e0446a" stroke-width="0.12">'Drug' (positively correlated)</text>
<text x="400.70" y="242.20" font-size="8.2" fill="#111" textLength="49.5" lengthAdjust="spacingAndGlyphs" stroke="#111" stroke-width="0.12">Zero cross at 13185</text>
<text x="420.00" y="258.00" font-size="7.0" fill="#3a7abf" textLength="78.5" lengthAdjust="spacingAndGlyphs" stroke="#3a7abf" stroke-width="0.12">'Control' (negatively correlated)</text>
<rect x="359.2" y="287.7" width="145.5" height="9.9" fill="#fff" stroke="#555" stroke-width="0.8"/>
<line x1="362.70" y1="292.70" x2="365.40" y2="292.70" stroke="#5cbf3a" stroke-width="1.5"/>
<text x="368.30" y="295.00" font-size="6.6" fill="#222" textLength="46.7" lengthAdjust="spacingAndGlyphs" stroke="#222" stroke-width="0.12">Enrichment profile</text>
<line x1="420.60" y1="292.70" x2="423.80" y2="292.70" stroke="#222" stroke-width="1.5"/>
<text x="427.10" y="295.00" font-size="6.6" fill="#222" textLength="9.8" lengthAdjust="spacingAndGlyphs" stroke="#222" stroke-width="0.12">Hits</text>
<line x1="442.80" y1="292.70" x2="446.00" y2="292.70" stroke="#aaa" stroke-width="1.2"/>
<text x="448.70" y="295.00" font-size="6.6" fill="#222" textLength="55.6" lengthAdjust="spacingAndGlyphs" stroke="#222" stroke-width="0.12">Ranking metric scores</text>
<text x="259.80" y="321.40" font-size="12.7" font-weight="bold" fill="#000">D</text>
<text transform="translate(270.4,392.3) rotate(-90)" font-size="8.6" text-anchor="middle" fill="#222" textLength="57.9" lengthAdjust="spacingAndGlyphs">Log (fold change)</text>
<rect x="306.20" y="353.80" width="14.40" height="19.30" fill="#e0808f"/>
<rect x="329.80" y="342.00" width="14.40" height="31.10" fill="#e0808f"/>
<rect x="353.70" y="373.10" width="14.40" height="25.00" fill="#e0808f"/>
<rect x="377.50" y="373.10" width="14.40" height="7.50" fill="#e0808f"/>
<rect x="401.00" y="373.10" width="14.40" height="2.30" fill="#e0808f"/>
<rect x="424.90" y="365.20" width="14.40" height="7.90" fill="#e0808f"/>
<rect x="448.60" y="340.80" width="14.40" height="32.30" fill="#e0808f"/>
<line x1="289.50" y1="373.10" x2="480.60" y2="373.10" stroke="#555" stroke-width="1.0"/>
<line x1="313.40" y1="350.40" x2="313.40" y2="356.20" stroke="#222" stroke-width="0.9"/>
<line x1="309.60" y1="350.40" x2="317.20" y2="350.40" stroke="#222" stroke-width="0.9"/>
<line x1="309.60" y1="356.20" x2="317.20" y2="356.20" stroke="#222" stroke-width="0.9"/>
<line x1="337.00" y1="340.10" x2="337.00" y2="343.00" stroke="#222" stroke-width="0.9"/>
<line x1="333.20" y1="340.10" x2="340.80" y2="340.10" stroke="#222" stroke-width="0.9"/>
<line x1="333.20" y1="343.00" x2="340.80" y2="343.00" stroke="#222" stroke-width="0.9"/>
<line x1="360.90" y1="383.30" x2="360.90" y2="412.50" stroke="#222" stroke-width="0.9"/>
<line x1="357.10" y1="383.30" x2="364.70" y2="383.30" stroke="#222" stroke-width="0.9"/>
<line x1="357.10" y1="412.50" x2="364.70" y2="412.50" stroke="#222" stroke-width="0.9"/>
<line x1="384.70" y1="378.20" x2="384.70" y2="382.20" stroke="#222" stroke-width="0.9"/>
<line x1="380.90" y1="378.20" x2="388.50" y2="378.20" stroke="#222" stroke-width="0.9"/>
<line x1="380.90" y1="382.20" x2="388.50" y2="382.20" stroke="#222" stroke-width="0.9"/>
<line x1="408.20" y1="375.50" x2="408.20" y2="378.20" stroke="#222" stroke-width="0.9"/>
<line x1="404.40" y1="375.50" x2="412.00" y2="375.50" stroke="#222" stroke-width="0.9"/>
<line x1="404.40" y1="378.20" x2="412.00" y2="378.20" stroke="#222" stroke-width="0.9"/>
<line x1="432.10" y1="362.30" x2="432.10" y2="364.40" stroke="#222" stroke-width="0.9"/>
<line x1="428.30" y1="362.30" x2="435.90" y2="362.30" stroke="#222" stroke-width="0.9"/>
<line x1="428.30" y1="364.40" x2="435.90" y2="364.40" stroke="#222" stroke-width="0.9"/>
<line x1="455.80" y1="338.50" x2="455.80" y2="341.70" stroke="#222" stroke-width="0.9"/>
<line x1="452.00" y1="338.50" x2="459.60" y2="338.50" stroke="#222" stroke-width="0.9"/>
<line x1="452.00" y1="341.70" x2="459.60" y2="341.70" stroke="#222" stroke-width="0.9"/>
<circle cx="310.30" cy="346.50" r="1.55" fill="#c8102e"/>
<circle cx="316.30" cy="345.60" r="1.55" fill="#c8102e"/>
<circle cx="310.30" cy="352.80" r="1.55" fill="#c8102e"/>
<circle cx="316.30" cy="351.30" r="1.55" fill="#c8102e"/>
<circle cx="310.30" cy="361.40" r="1.55" fill="#c8102e"/>
<circle cx="316.50" cy="361.40" r="1.55" fill="#c8102e"/>
<circle cx="337.00" cy="336.30" r="1.55" fill="#c8102e"/>
<circle cx="330.60" cy="341.30" r="1.55" fill="#c8102e"/>
<circle cx="334.10" cy="342.00" r="1.55" fill="#c8102e"/>
<circle cx="338.90" cy="341.70" r="1.55" fill="#c8102e"/>
<circle cx="343.50" cy="342.30" r="1.55" fill="#c8102e"/>
<circle cx="337.00" cy="346.30" r="1.55" fill="#c8102e"/>
<circle cx="357.70" cy="378.40" r="1.55" fill="#c8102e"/>
<circle cx="363.90" cy="377.10" r="1.55" fill="#c8102e"/>
<circle cx="360.80" cy="395.70" r="1.55" fill="#c8102e"/>
<circle cx="360.70" cy="440.20" r="1.55" fill="#c8102e"/>
<circle cx="384.70" cy="373.20" r="1.55" fill="#c8102e"/>
<circle cx="378.30" cy="379.20" r="1.55" fill="#c8102e"/>
<circle cx="382.30" cy="380.50" r="1.55" fill="#c8102e"/>
<circle cx="387.00" cy="379.90" r="1.55" fill="#c8102e"/>
<circle cx="391.00" cy="380.90" r="1.55" fill="#c8102e"/>
<circle cx="384.70" cy="388.30" r="1.55" fill="#c8102e"/>
<circle cx="408.10" cy="369.20" r="1.55" fill="#c8102e"/>
<circle cx="402.10" cy="377.20" r="1.55" fill="#c8102e"/>
<circle cx="402.10" cy="380.90" r="1.55" fill="#c8102e"/>
<circle cx="410.60" cy="378.80" r="1.55" fill="#c8102e"/>
<circle cx="414.60" cy="377.90" r="1.55" fill="#c8102e"/>
<circle cx="425.70" cy="365.00" r="1.55" fill="#c8102e"/>
<circle cx="432.10" cy="363.60" r="1.55" fill="#c8102e"/>
<circle cx="438.50" cy="360.70" r="1.55" fill="#c8102e"/>
<circle cx="438.50" cy="364.40" r="1.55" fill="#c8102e"/>
<circle cx="452.60" cy="338.50" r="1.55" fill="#c8102e"/>
<circle cx="459.00" cy="335.90" r="1.55" fill="#c8102e"/>
<circle cx="459.00" cy="341.00" r="1.55" fill="#c8102e"/>
<circle cx="455.80" cy="344.20" r="1.55" fill="#c8102e"/>
<line x1="289.50" y1="326.90" x2="289.50" y2="457.50" stroke="#111" stroke-width="1.0"/>
<line x1="289.00" y1="457.50" x2="480.60" y2="457.50" stroke="#111" stroke-width="1.0"/>
<line x1="286.50" y1="330.65" x2="289.50" y2="330.65" stroke="#111" stroke-width="0.9"/>
<text x="284.90" y="333.45" font-size="8.0" text-anchor="end" fill="#222" stroke="#222" stroke-width="0.12">1</text>
<line x1="286.50" y1="373.10" x2="289.50" y2="373.10" stroke="#111" stroke-width="0.9"/>
<text x="284.90" y="375.90" font-size="8.0" text-anchor="end" fill="#222" stroke="#222" stroke-width="0.12">0</text>
<line x1="286.50" y1="415.55" x2="289.50" y2="415.55" stroke="#111" stroke-width="0.9"/>
<text x="284.90" y="418.35" font-size="8.0" text-anchor="end" fill="#222" stroke="#222" stroke-width="0.12">−1</text>
<line x1="286.50" y1="458.00" x2="289.50" y2="458.00" stroke="#111" stroke-width="0.9"/>
<text x="284.90" y="460.80" font-size="8.0" text-anchor="end" fill="#222" stroke="#222" stroke-width="0.12">−2</text>
<line x1="313.40" y1="457.50" x2="313.40" y2="460.30" stroke="#111" stroke-width="0.9"/>
<text transform="translate(317.00,466.50) rotate(-45)" font-size="7.6" text-anchor="end" fill="#222" stroke="#222" stroke-width="0.12" textLength="13.7" lengthAdjust="spacingAndGlyphs">p21</text>
<line x1="337.00" y1="457.50" x2="337.00" y2="460.30" stroke="#111" stroke-width="0.9"/>
<text transform="translate(340.60,466.50) rotate(-45)" font-size="7.6" text-anchor="end" fill="#222" stroke="#222" stroke-width="0.12" textLength="13.7" lengthAdjust="spacingAndGlyphs">p27</text>
<line x1="360.90" y1="457.50" x2="360.90" y2="460.30" stroke="#111" stroke-width="0.9"/>
<text transform="translate(364.50,466.50) rotate(-45)" font-size="7.6" text-anchor="end" fill="#222" stroke="#222" stroke-width="0.12" textLength="28.2" lengthAdjust="spacingAndGlyphs">CCND1</text>
<line x1="384.70" y1="457.50" x2="384.70" y2="460.30" stroke="#111" stroke-width="0.9"/>
<text transform="translate(388.30,466.50) rotate(-45)" font-size="7.6" text-anchor="end" fill="#222" stroke="#222" stroke-width="0.12" textLength="27.8" lengthAdjust="spacingAndGlyphs">CCNE1</text>
<line x1="408.20" y1="457.50" x2="408.20" y2="460.30" stroke="#111" stroke-width="0.9"/>
<text transform="translate(411.80,466.50) rotate(-45)" font-size="7.6" text-anchor="end" fill="#222" stroke="#222" stroke-width="0.12" textLength="21.9" lengthAdjust="spacingAndGlyphs">CDK2</text>
<line x1="432.10" y1="457.50" x2="432.10" y2="460.30" stroke="#111" stroke-width="0.9"/>
<text transform="translate(435.70,466.50) rotate(-45)" font-size="7.6" text-anchor="end" fill="#222" stroke="#222" stroke-width="0.12" textLength="27.1" lengthAdjust="spacingAndGlyphs">CEBPα</text>
<line x1="455.80" y1="457.50" x2="455.80" y2="460.30" stroke="#111" stroke-width="0.9"/>
<text transform="translate(459.40,466.50) rotate(-45)" font-size="7.6" text-anchor="end" fill="#222" stroke="#222" stroke-width="0.12" textLength="27.1" lengthAdjust="spacingAndGlyphs">CEBPβ</text>
<text x="312.80" y="328.60" font-size="7.6" text-anchor="middle" fill="#222" stroke="#222" stroke-width="0.15">**</text>
<text x="312.80" y="337.20" font-size="7.4" text-anchor="middle" fill="#222" stroke="#222" stroke-width="0.12">3.11</text>
<text x="336.90" y="319.40" font-size="7.6" text-anchor="middle" fill="#222" stroke="#222" stroke-width="0.15">***</text>
<text x="336.90" y="327.80" font-size="7.4" text-anchor="middle" fill="#222" stroke="#222" stroke-width="0.12">5.63</text>
<text x="360.70" y="428.10" font-size="7.4" text-anchor="middle" fill="#222" stroke="#222" stroke-width="0.12">0.46</text>
<text x="384.70" y="405.10" font-size="7.4" text-anchor="middle" fill="#222" stroke="#222" stroke-width="0.12">0.68</text>
<text x="384.70" y="416.60" font-size="7.6" text-anchor="middle" fill="#222" stroke="#222" stroke-width="0.15">**</text>
<text x="408.10" y="397.20" font-size="8.0" text-anchor="middle" fill="#222" stroke="#222" stroke-width="0.12">0.83</text>
<text x="432.10" y="342.50" font-size="7.6" text-anchor="middle" fill="#222" stroke="#222" stroke-width="0.15">**</text>
<text x="432.10" y="351.00" font-size="7.4" text-anchor="middle" fill="#222" stroke="#222" stroke-width="0.12">1.69</text>
<text x="455.80" y="318.80" font-size="7.6" text-anchor="middle" fill="#222" stroke="#222" stroke-width="0.15">**</text>
<text x="455.80" y="327.40" font-size="7.4" text-anchor="middle" fill="#222" stroke="#222" stroke-width="0.12">6.1</text>
<rect x="360.80" y="318.40" width="33.40" height="12.00" fill="#c9c9c9"/>
<text x="377.50" y="327.30" font-size="8.2" text-anchor="middle" fill="#111" stroke="#111" stroke-width="0.12">MV4-11</text>
<text x="413.80" y="450.50" font-size="7.0" fill="#222" textLength="65" lengthAdjust="spacingAndGlyphs" stroke="#222" stroke-width="0.12">[OSU-2S] 5μM, 8hrs</text>
<text x="7.30" y="502.60" font-size="11.9" font-weight="bold" fill="#000">E</text>
<text transform="translate(29.4,564.7) rotate(-90)" font-size="8.6" text-anchor="middle" fill="#222" textLength="58" lengthAdjust="spacingAndGlyphs">Log (fold change)</text>
<rect x="68.90" y="546.00" width="14.40" height="33.60" fill="#e0808f"/>
<rect x="92.80" y="558.20" width="14.40" height="21.40" fill="#e0808f"/>
<rect x="116.50" y="579.60" width="14.40" height="9.20" fill="#e0808f"/>
<rect x="140.30" y="579.60" width="14.40" height="8.90" fill="#e0808f"/>
<rect x="164.10" y="579.60" width="14.40" height="5.60" fill="#e0808f"/>
<rect x="187.80" y="578.90" width="14.40" height="0.80" fill="#e0808f"/>
<rect x="211.50" y="547.10" width="14.40" height="32.50" fill="#e0808f"/>
<line x1="52.50" y1="579.60" x2="243.00" y2="579.60" stroke="#555" stroke-width="1.0"/>
<line x1="76.10" y1="539.70" x2="76.10" y2="550.50" stroke="#222" stroke-width="0.9"/>
<line x1="72.30" y1="539.70" x2="79.90" y2="539.70" stroke="#222" stroke-width="0.9"/>
<line x1="72.30" y1="550.50" x2="79.90" y2="550.50" stroke="#222" stroke-width="0.9"/>
<line x1="100.00" y1="550.50" x2="100.00" y2="563.30" stroke="#222" stroke-width="0.9"/>
<line x1="96.20" y1="550.50" x2="103.80" y2="550.50" stroke="#222" stroke-width="0.9"/>
<line x1="96.20" y1="563.30" x2="103.80" y2="563.30" stroke="#222" stroke-width="0.9"/>
<line x1="123.70" y1="583.80" x2="123.70" y2="595.60" stroke="#222" stroke-width="0.9"/>
<line x1="119.90" y1="583.80" x2="127.50" y2="583.80" stroke="#222" stroke-width="0.9"/>
<line x1="119.90" y1="595.60" x2="127.50" y2="595.60" stroke="#222" stroke-width="0.9"/>
<line x1="147.50" y1="587.40" x2="147.50" y2="591.70" stroke="#222" stroke-width="0.9"/>
<line x1="143.70" y1="587.40" x2="151.30" y2="587.40" stroke="#222" stroke-width="0.9"/>
<line x1="143.70" y1="591.70" x2="151.30" y2="591.70" stroke="#222" stroke-width="0.9"/>
<line x1="171.30" y1="584.20" x2="171.30" y2="588.40" stroke="#222" stroke-width="0.9"/>
<line x1="167.50" y1="584.20" x2="175.10" y2="584.20" stroke="#222" stroke-width="0.9"/>
<line x1="167.50" y1="588.40" x2="175.10" y2="588.40" stroke="#222" stroke-width="0.9"/>
<line x1="195.00" y1="573.30" x2="195.00" y2="587.10" stroke="#222" stroke-width="0.9"/>
<line x1="191.20" y1="573.30" x2="198.80" y2="573.30" stroke="#222" stroke-width="0.9"/>
<line x1="191.20" y1="587.10" x2="198.80" y2="587.10" stroke="#222" stroke-width="0.9"/>
<line x1="218.70" y1="543.90" x2="218.70" y2="549.30" stroke="#222" stroke-width="0.9"/>
<line x1="214.90" y1="543.90" x2="222.50" y2="543.90" stroke="#222" stroke-width="0.9"/>
<line x1="214.90" y1="549.30" x2="222.50" y2="549.30" stroke="#222" stroke-width="0.9"/>
<circle cx="76.10" cy="528.10" r="1.55" fill="#c8102e"/>
<circle cx="72.80" cy="532.00" r="1.55" fill="#c8102e"/>
<circle cx="79.40" cy="532.40" r="1.55" fill="#c8102e"/>
<circle cx="69.70" cy="551.80" r="1.55" fill="#c8102e"/>
<circle cx="76.10" cy="553.10" r="1.55" fill="#c8102e"/>
<circle cx="82.50" cy="553.10" r="1.55" fill="#c8102e"/>
<circle cx="76.10" cy="565.20" r="1.55" fill="#c8102e"/>
<circle cx="100.00" cy="537.70" r="1.55" fill="#c8102e"/>
<circle cx="100.00" cy="543.10" r="1.55" fill="#c8102e"/>
<circle cx="96.70" cy="547.30" r="1.55" fill="#c8102e"/>
<circle cx="103.10" cy="547.60" r="1.55" fill="#c8102e"/>
<circle cx="100.00" cy="570.10" r="1.55" fill="#c8102e"/>
<circle cx="100.00" cy="574.60" r="1.55" fill="#c8102e"/>
<circle cx="100.00" cy="579.30" r="1.55" fill="#c8102e"/>
<circle cx="120.80" cy="583.00" r="1.55" fill="#c8102e"/>
<circle cx="126.60" cy="584.80" r="1.55" fill="#c8102e"/>
<circle cx="123.70" cy="601.80" r="1.55" fill="#c8102e"/>
<circle cx="144.30" cy="585.20" r="1.55" fill="#c8102e"/>
<circle cx="150.70" cy="583.30" r="1.55" fill="#c8102e"/>
<circle cx="144.30" cy="590.00" r="1.55" fill="#c8102e"/>
<circle cx="150.70" cy="590.00" r="1.55" fill="#c8102e"/>
<circle cx="144.30" cy="594.60" r="1.55" fill="#c8102e"/>
<circle cx="150.70" cy="594.30" r="1.55" fill="#c8102e"/>
<circle cx="171.30" cy="579.40" r="1.55" fill="#c8102e"/>
<circle cx="164.80" cy="584.50" r="1.55" fill="#c8102e"/>
<circle cx="177.80" cy="584.50" r="1.55" fill="#c8102e"/>
<circle cx="169.10" cy="586.60" r="1.55" fill="#c8102e"/>
<circle cx="173.50" cy="586.60" r="1.55" fill="#c8102e"/>
<circle cx="171.30" cy="597.00" r="1.55" fill="#c8102e"/>
<circle cx="191.70" cy="573.30" r="1.55" fill="#c8102e"/>
<circle cx="198.10" cy="570.70" r="1.55" fill="#c8102e"/>
<circle cx="195.00" cy="576.70" r="1.55" fill="#c8102e"/>
<circle cx="195.00" cy="600.30" r="1.55" fill="#c8102e"/>
<circle cx="218.60" cy="540.30" r="1.55" fill="#c8102e"/>
<circle cx="218.60" cy="545.70" r="1.55" fill="#c8102e"/>
<circle cx="218.60" cy="553.60" r="1.55" fill="#c8102e"/>
<line x1="52.50" y1="500.00" x2="52.50" y2="630.50" stroke="#111" stroke-width="1.0"/>
<line x1="52.00" y1="630.50" x2="243.00" y2="630.50" stroke="#111" stroke-width="1.0"/>
<line x1="49.50" y1="503.25" x2="52.50" y2="503.25" stroke="#111" stroke-width="0.9"/>
<text x="47.90" y="506.05" font-size="8.0" text-anchor="end" fill="#222" stroke="#222" stroke-width="0.12">1.5</text>
<line x1="49.50" y1="528.70" x2="52.50" y2="528.70" stroke="#111" stroke-width="0.9"/>
<text x="47.90" y="531.50" font-size="8.0" text-anchor="end" fill="#222" stroke="#222" stroke-width="0.12">1.0</text>
<line x1="49.50" y1="554.15" x2="52.50" y2="554.15" stroke="#111" stroke-width="0.9"/>
<text x="47.90" y="556.95" font-size="8.0" text-anchor="end" fill="#222" stroke="#222" stroke-width="0.12">0.5</text>
<line x1="49.50" y1="579.60" x2="52.50" y2="579.60" stroke="#111" stroke-width="0.9"/>
<text x="47.90" y="582.40" font-size="8.0" text-anchor="end" fill="#222" stroke="#222" stroke-width="0.12">0.0</text>
<line x1="49.50" y1="605.05" x2="52.50" y2="605.05" stroke="#111" stroke-width="0.9"/>
<text x="47.90" y="607.85" font-size="8.0" text-anchor="end" fill="#222" stroke="#222" stroke-width="0.12">−0.5</text>
<line x1="49.50" y1="630.50" x2="52.50" y2="630.50" stroke="#111" stroke-width="0.9"/>
<text x="47.90" y="633.30" font-size="8.0" text-anchor="end" fill="#222" stroke="#222" stroke-width="0.12">−1.0</text>
<line x1="76.10" y1="630.50" x2="76.10" y2="633.30" stroke="#111" stroke-width="0.9"/>
<text transform="translate(79.70,639.50) rotate(-45)" font-size="7.6" text-anchor="end" fill="#222" stroke="#222" stroke-width="0.12" textLength="13.7" lengthAdjust="spacingAndGlyphs">p21</text>
<line x1="100.00" y1="630.50" x2="100.00" y2="633.30" stroke="#111" stroke-width="0.9"/>
<text transform="translate(103.60,639.50) rotate(-45)" font-size="7.6" text-anchor="end" fill="#222" stroke="#222" stroke-width="0.12" textLength="13.7" lengthAdjust="spacingAndGlyphs">p27</text>
<line x1="123.70" y1="630.50" x2="123.70" y2="633.30" stroke="#111" stroke-width="0.9"/>
<text transform="translate(127.30,639.50) rotate(-45)" font-size="7.6" text-anchor="end" fill="#222" stroke="#222" stroke-width="0.12" textLength="28.2" lengthAdjust="spacingAndGlyphs">CCND1</text>
<line x1="147.50" y1="630.50" x2="147.50" y2="633.30" stroke="#111" stroke-width="0.9"/>
<text transform="translate(151.10,639.50) rotate(-45)" font-size="7.6" text-anchor="end" fill="#222" stroke="#222" stroke-width="0.12" textLength="27.8" lengthAdjust="spacingAndGlyphs">CCNE1</text>
<line x1="171.30" y1="630.50" x2="171.30" y2="633.30" stroke="#111" stroke-width="0.9"/>
<text transform="translate(174.90,639.50) rotate(-45)" font-size="7.6" text-anchor="end" fill="#222" stroke="#222" stroke-width="0.12" textLength="21.9" lengthAdjust="spacingAndGlyphs">CDK2</text>
<line x1="195.00" y1="630.50" x2="195.00" y2="633.30" stroke="#111" stroke-width="0.9"/>
<text transform="translate(198.60,639.50) rotate(-45)" font-size="7.6" text-anchor="end" fill="#222" stroke="#222" stroke-width="0.12" textLength="27.1" lengthAdjust="spacingAndGlyphs">CEBPα</text>
<line x1="218.70" y1="630.50" x2="218.70" y2="633.30" stroke="#111" stroke-width="0.9"/>
<text transform="translate(222.30,639.50) rotate(-45)" font-size="7.6" text-anchor="end" fill="#222" stroke="#222" stroke-width="0.12" textLength="27.1" lengthAdjust="spacingAndGlyphs">CEBPβ</text>
<text x="76.10" y="512.20" font-size="7.6" text-anchor="middle" fill="#222" stroke="#222" stroke-width="0.15">*</text>
<text x="76.10" y="520.90" font-size="7.4" text-anchor="middle" fill="#222" stroke="#222" stroke-width="0.12">5.66</text>
<text x="100.00" y="520.50" font-size="7.6" text-anchor="middle" fill="#222" stroke="#222" stroke-width="0.15">*</text>
<text x="100.00" y="529.60" font-size="7.4" text-anchor="middle" fill="#222" stroke="#222" stroke-width="0.12">3.49</text>
<text x="123.70" y="617.20" font-size="7.4" text-anchor="middle" fill="#222" stroke="#222" stroke-width="0.12">0.67</text>
<text x="147.50" y="607.80" font-size="7.4" text-anchor="middle" fill="#222" stroke="#222" stroke-width="0.12">0.65</text>
<text x="147.50" y="619.20" font-size="7.6" text-anchor="middle" fill="#222" stroke="#222" stroke-width="0.15">**</text>
<text x="171.30" y="608.50" font-size="7.4" text-anchor="middle" fill="#222" stroke="#222" stroke-width="0.12">0.75</text>
<text x="171.30" y="619.70" font-size="7.6" text-anchor="middle" fill="#222" stroke="#222" stroke-width="0.15">*</text>
<text x="195.00" y="554.10" font-size="7.4" text-anchor="middle" fill="#222" stroke="#222" stroke-width="0.12">1.09</text>
<text x="218.60" y="525.00" font-size="7.6" text-anchor="middle" fill="#222" stroke="#222" stroke-width="0.15">*</text>
<text x="218.60" y="534.10" font-size="7.4" text-anchor="middle" fill="#222" stroke="#222" stroke-width="0.12">4.61</text>
<rect x="121.60" y="505.00" width="26.00" height="12.40" fill="#c9c9c9"/>
<text x="134.60" y="514.10" font-size="8.2" text-anchor="middle" fill="#111" stroke="#111" stroke-width="0.12">HL-60</text>
<text x="178.70" y="623.80" font-size="7.0" fill="#222" textLength="63.8" lengthAdjust="spacingAndGlyphs" stroke="#222" stroke-width="0.12">[OSU-2S] 5μM, 8hrs</text>
<text x="260.30" y="502.60" font-size="11.9" font-weight="bold" fill="#000">F</text>
<text transform="translate(266.1,564.6) rotate(-90)" font-size="8.6" text-anchor="middle" fill="#222" textLength="57.9" lengthAdjust="spacingAndGlyphs">Log (fold change)</text>
<rect x="299.00" y="559.70" width="15.80" height="7.20" fill="#e0808f"/>
<rect x="325.00" y="544.90" width="15.80" height="22.00" fill="#e0808f"/>
<rect x="350.80" y="566.90" width="15.80" height="19.50" fill="#e0808f"/>
<rect x="376.70" y="566.90" width="15.80" height="14.20" fill="#e0808f"/>
<rect x="401.70" y="566.90" width="15.80" height="2.30" fill="#e0808f"/>
<rect x="428.10" y="566.90" width="15.80" height="1.50" fill="#e0808f"/>
<rect x="454.40" y="543.30" width="15.80" height="23.60" fill="#e0808f"/>
<line x1="289.50" y1="566.90" x2="479.80" y2="566.90" stroke="#555" stroke-width="1.0"/>
<line x1="306.90" y1="556.60" x2="306.90" y2="561.10" stroke="#222" stroke-width="0.9"/>
<line x1="302.90" y1="556.60" x2="310.90" y2="556.60" stroke="#222" stroke-width="0.9"/>
<line x1="302.90" y1="561.10" x2="310.90" y2="561.10" stroke="#222" stroke-width="0.9"/>
<line x1="332.90" y1="530.80" x2="332.90" y2="557.80" stroke="#222" stroke-width="0.9"/>
<line x1="328.90" y1="530.80" x2="336.90" y2="530.80" stroke="#222" stroke-width="0.9"/>
<line x1="328.90" y1="557.80" x2="336.90" y2="557.80" stroke="#222" stroke-width="0.9"/>
<line x1="358.70" y1="587.00" x2="358.70" y2="590.00" stroke="#222" stroke-width="0.9"/>
<line x1="354.70" y1="587.00" x2="362.70" y2="587.00" stroke="#222" stroke-width="0.9"/>
<line x1="354.70" y1="590.00" x2="362.70" y2="590.00" stroke="#222" stroke-width="0.9"/>
<line x1="384.60" y1="572.10" x2="384.60" y2="592.30" stroke="#222" stroke-width="0.9"/>
<line x1="380.60" y1="572.10" x2="388.60" y2="572.10" stroke="#222" stroke-width="0.9"/>
<line x1="380.60" y1="592.30" x2="388.60" y2="592.30" stroke="#222" stroke-width="0.9"/>
<line x1="409.60" y1="569.80" x2="409.60" y2="572.30" stroke="#222" stroke-width="0.9"/>
<line x1="405.60" y1="569.80" x2="413.60" y2="569.80" stroke="#222" stroke-width="0.9"/>
<line x1="405.60" y1="572.30" x2="413.60" y2="572.30" stroke="#222" stroke-width="0.9"/>
<line x1="436.00" y1="570.80" x2="436.00" y2="570.80" stroke="#222" stroke-width="0.9"/>
<line x1="432.00" y1="570.80" x2="440.00" y2="570.80" stroke="#222" stroke-width="0.9"/>
<line x1="432.00" y1="570.80" x2="440.00" y2="570.80" stroke="#222" stroke-width="0.9"/>
<line x1="462.30" y1="534.40" x2="462.30" y2="550.60" stroke="#222" stroke-width="0.9"/>
<line x1="458.30" y1="534.40" x2="466.30" y2="534.40" stroke="#222" stroke-width="0.9"/>
<line x1="458.30" y1="550.60" x2="466.30" y2="550.60" stroke="#222" stroke-width="0.9"/>
<circle cx="306.80" cy="553.70" r="1.55" fill="#c8102e"/>
<circle cx="306.80" cy="557.80" r="1.55" fill="#c8102e"/>
<circle cx="306.80" cy="560.90" r="1.55" fill="#c8102e"/>
<circle cx="306.80" cy="563.80" r="1.55" fill="#c8102e"/>
<circle cx="332.70" cy="510.40" r="1.55" fill="#c8102e"/>
<circle cx="332.70" cy="534.70" r="1.55" fill="#c8102e"/>
<circle cx="332.70" cy="563.30" r="1.55" fill="#c8102e"/>
<circle cx="332.70" cy="568.70" r="1.55" fill="#c8102e"/>
<circle cx="355.50" cy="584.30" r="1.55" fill="#c8102e"/>
<circle cx="361.40" cy="586.10" r="1.55" fill="#c8102e"/>
<circle cx="358.80" cy="590.20" r="1.55" fill="#c8102e"/>
<circle cx="384.50" cy="566.70" r="1.55" fill="#c8102e"/>
<circle cx="381.80" cy="574.00" r="1.55" fill="#c8102e"/>
<circle cx="387.70" cy="577.50" r="1.55" fill="#c8102e"/>
<circle cx="384.30" cy="610.80" r="1.55" fill="#c8102e"/>
<circle cx="403.80" cy="569.40" r="1.55" fill="#c8102e"/>
<circle cx="417.30" cy="569.40" r="1.55" fill="#c8102e"/>
<circle cx="410.60" cy="572.10" r="1.55" fill="#c8102e"/>
<circle cx="410.60" cy="576.70" r="1.55" fill="#c8102e"/>
<circle cx="436.20" cy="566.00" r="1.55" fill="#c8102e"/>
<circle cx="436.20" cy="568.60" r="1.55" fill="#c8102e"/>
<circle cx="436.20" cy="570.80" r="1.55" fill="#c8102e"/>
<circle cx="459.00" cy="534.40" r="1.55" fill="#c8102e"/>
<circle cx="465.80" cy="534.40" r="1.55" fill="#c8102e"/>
<circle cx="462.50" cy="558.10" r="1.55" fill="#c8102e"/>
<line x1="289.50" y1="500.00" x2="289.50" y2="630.50" stroke="#111" stroke-width="1.0"/>
<line x1="289.00" y1="630.50" x2="479.80" y2="630.50" stroke="#111" stroke-width="1.0"/>
<line x1="286.50" y1="503.15" x2="289.50" y2="503.15" stroke="#111" stroke-width="0.9"/>
<text x="284.90" y="505.95" font-size="8.0" text-anchor="end" fill="#222" stroke="#222" stroke-width="0.12">1.0</text>
<line x1="286.50" y1="535.02" x2="289.50" y2="535.02" stroke="#111" stroke-width="0.9"/>
<text x="284.90" y="537.82" font-size="8.0" text-anchor="end" fill="#222" stroke="#222" stroke-width="0.12">0.5</text>
<line x1="286.50" y1="566.90" x2="289.50" y2="566.90" stroke="#111" stroke-width="0.9"/>
<text x="284.90" y="569.70" font-size="8.0" text-anchor="end" fill="#222" stroke="#222" stroke-width="0.12">0.0</text>
<line x1="286.50" y1="598.77" x2="289.50" y2="598.77" stroke="#111" stroke-width="0.9"/>
<text x="284.90" y="601.57" font-size="8.0" text-anchor="end" fill="#222" stroke="#222" stroke-width="0.12">−0.5</text>
<line x1="286.50" y1="630.65" x2="289.50" y2="630.65" stroke="#111" stroke-width="0.9"/>
<text x="284.90" y="633.45" font-size="8.0" text-anchor="end" fill="#222" stroke="#222" stroke-width="0.12">−1.0</text>
<line x1="306.90" y1="630.50" x2="306.90" y2="633.30" stroke="#111" stroke-width="0.9"/>
<text transform="translate(310.50,639.50) rotate(-45)" font-size="7.6" text-anchor="end" fill="#222" stroke="#222" stroke-width="0.12" textLength="13.7" lengthAdjust="spacingAndGlyphs">p21</text>
<line x1="332.90" y1="630.50" x2="332.90" y2="633.30" stroke="#111" stroke-width="0.9"/>
<text transform="translate(336.50,639.50) rotate(-45)" font-size="7.6" text-anchor="end" fill="#222" stroke="#222" stroke-width="0.12" textLength="13.7" lengthAdjust="spacingAndGlyphs">p27</text>
<line x1="358.70" y1="630.50" x2="358.70" y2="633.30" stroke="#111" stroke-width="0.9"/>
<text transform="translate(362.30,639.50) rotate(-45)" font-size="7.6" text-anchor="end" fill="#222" stroke="#222" stroke-width="0.12" textLength="28.2" lengthAdjust="spacingAndGlyphs">CCND1</text>
<line x1="384.60" y1="630.50" x2="384.60" y2="633.30" stroke="#111" stroke-width="0.9"/>
<text transform="translate(388.20,639.50) rotate(-45)" font-size="7.6" text-anchor="end" fill="#222" stroke="#222" stroke-width="0.12" textLength="27.8" lengthAdjust="spacingAndGlyphs">CCNE1</text>
<line x1="409.60" y1="630.50" x2="409.60" y2="633.30" stroke="#111" stroke-width="0.9"/>
<text transform="translate(413.20,639.50) rotate(-45)" font-size="7.6" text-anchor="end" fill="#222" stroke="#222" stroke-width="0.12" textLength="21.9" lengthAdjust="spacingAndGlyphs">CDK2</text>
<line x1="436.00" y1="630.50" x2="436.00" y2="633.30" stroke="#111" stroke-width="0.9"/>
<text transform="translate(439.60,639.50) rotate(-45)" font-size="7.6" text-anchor="end" fill="#222" stroke="#222" stroke-width="0.12" textLength="27.1" lengthAdjust="spacingAndGlyphs">CEBPα</text>
<line x1="462.30" y1="630.50" x2="462.30" y2="633.30" stroke="#111" stroke-width="0.9"/>
<text transform="translate(465.90,639.50) rotate(-45)" font-size="7.6" text-anchor="end" fill="#222" stroke="#222" stroke-width="0.12" textLength="27.1" lengthAdjust="spacingAndGlyphs">CEBPβ</text>
<text x="306.80" y="533.20" font-size="7.6" text-anchor="middle" fill="#222" stroke="#222" stroke-width="0.15">*</text>
<text x="306.80" y="542.20" font-size="7.4" text-anchor="middle" fill="#222" stroke="#222" stroke-width="0.12">1.35</text>
<text x="332.80" y="504.00" font-size="7.4" text-anchor="middle" fill="#222" stroke="#222" stroke-width="0.12">3.27</text>
<text x="332.70" y="523.50" font-size="7.6" text-anchor="middle" fill="#222" stroke="#222" stroke-width="0.15">*</text>
<text x="358.60" y="605.20" font-size="7.4" text-anchor="middle" fill="#222" stroke="#222" stroke-width="0.12">0.49</text>
<text x="384.40" y="605.60" font-size="7.6" text-anchor="middle" fill="#222" stroke="#222" stroke-width="0.15">*</text>
<text x="384.60" y="623.10" font-size="7.4" text-anchor="middle" fill="#222" stroke="#222" stroke-width="0.12">0.67</text>
<text x="409.40" y="588.20" font-size="7.4" text-anchor="middle" fill="#222" stroke="#222" stroke-width="0.12">0.84</text>
<text x="434.70" y="584.80" font-size="7.4" text-anchor="middle" fill="#222" stroke="#222" stroke-width="0.12">0.92</text>
<text x="462.30" y="527.70" font-size="7.4" text-anchor="middle" fill="#222" stroke="#222" stroke-width="0.12">2.63</text>
<rect x="357.30" y="502.10" width="54.10" height="12.10" fill="#c9c9c9"/>
<text x="384.35" y="511.05" font-size="8.2" text-anchor="middle" fill="#111" stroke="#111" stroke-width="0.12">Primary AML</text>
<text x="408.30" y="622.30" font-size="7.0" fill="#222" textLength="75.4" lengthAdjust="spacingAndGlyphs" stroke="#222" stroke-width="0.12">[OSU-2S] 3.5μM, 16hrs</text>
<rect x="0.5" y="0.5" width="519" height="664" fill="none" stroke="#000" stroke-width="1"/>
</svg>
</body></html>
